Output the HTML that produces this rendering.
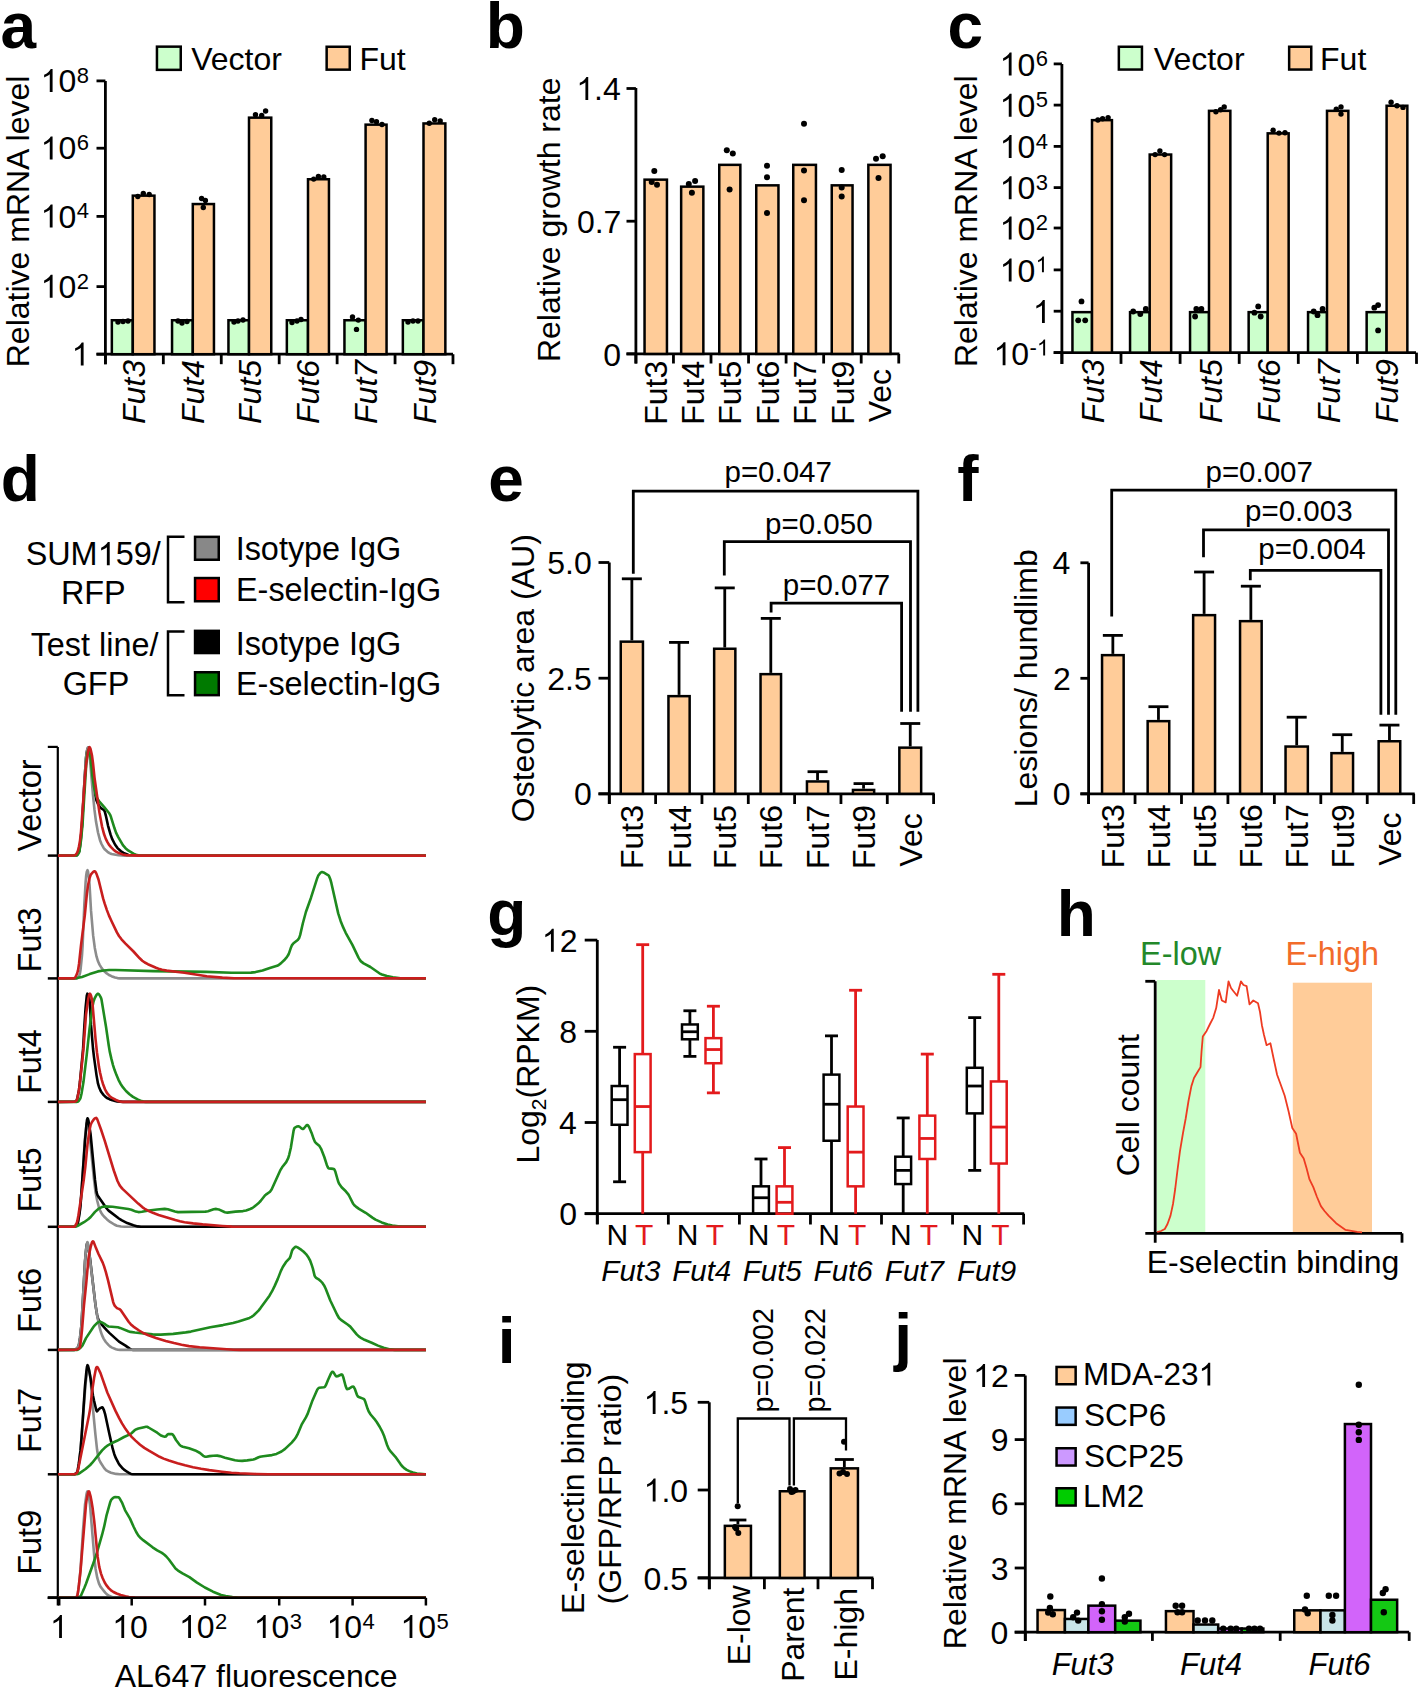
<!DOCTYPE html>
<html><head><meta charset="utf-8"><style>
html,body{margin:0;padding:0;background:#fff;overflow:hidden;width:1418px;height:1687px;}
svg{display:block;}
text{font-family:"Liberation Sans",sans-serif;}
</style></head><body>
<svg width="1418" height="1687" viewBox="0 0 1418 1687">
<rect width="1418" height="1687" fill="#fff"/>
<text x="0.58" y="47.8" font-size="64" font-weight="bold" fill="#000">a</text>
<rect x="156.95" y="46.65" width="23.8" height="23.2" fill="#CCFFCC" stroke="#000" stroke-width="2.5"/>
<text x="191.14" y="69.6" font-size="32" fill="#000">Vector</text>
<rect x="326.65" y="46.75" width="23.1" height="22.9" fill="#FFCC99" stroke="#000" stroke-width="2.5"/>
<text x="359.44" y="69.6" font-size="32" fill="#000">Fut</text>
<line x1="105.4" y1="80.9" x2="105.4" y2="364.2" stroke="#000" stroke-width="2.8"/>
<line x1="96.5" y1="354.2" x2="453" y2="354.2" stroke="#000" stroke-width="2.8"/>
<line x1="96.5" y1="80.9" x2="105.4" y2="80.9" stroke="#000" stroke-width="2.8"/>
<line x1="96.5" y1="148.2" x2="105.4" y2="148.2" stroke="#000" stroke-width="2.8"/>
<line x1="96.5" y1="216.4" x2="105.4" y2="216.4" stroke="#000" stroke-width="2.8"/>
<line x1="96.5" y1="286.6" x2="105.4" y2="286.6" stroke="#000" stroke-width="2.8"/>
<line x1="96.5" y1="354.2" x2="105.4" y2="354.2" stroke="#000" stroke-width="2.8"/>
<path d="M52.58,92.10 L49.77,92.10 L49.77,74.18 Q48.75,75.15 47.10,76.12 Q45.44,77.08 44.13,77.57 L44.13,74.85 Q46.49,73.74 48.25,72.16 Q50.02,70.58 50.75,69.10 L52.58,69.10 Z" fill="#000"/>
<text x="58.46" y="92.1" font-size="32" fill="#000">0</text>
<text x="76.7" y="82.8" font-size="22">8</text>
<path d="M52.58,159.40 L49.77,159.40 L49.77,141.48 Q48.75,142.45 47.10,143.42 Q45.44,144.38 44.13,144.87 L44.13,142.15 Q46.49,141.04 48.25,139.46 Q50.02,137.88 50.75,136.40 L52.58,136.40 Z" fill="#000"/>
<text x="58.46" y="159.4" font-size="32" fill="#000">0</text>
<text x="76.7" y="150.1" font-size="22">6</text>
<path d="M52.58,227.60 L49.77,227.60 L49.77,209.68 Q48.75,210.65 47.10,211.62 Q45.44,212.58 44.13,213.07 L44.13,210.35 Q46.49,209.24 48.25,207.66 Q50.02,206.08 50.75,204.60 L52.58,204.60 Z" fill="#000"/>
<text x="58.46" y="227.6" font-size="32" fill="#000">0</text>
<text x="76.7" y="218.3" font-size="22">4</text>
<path d="M52.58,297.80 L49.77,297.80 L49.77,279.88 Q48.75,280.85 47.10,281.82 Q45.44,282.78 44.13,283.27 L44.13,280.55 Q46.49,279.44 48.25,277.86 Q50.02,276.28 50.75,274.80 L52.58,274.80 Z" fill="#000"/>
<text x="58.46" y="297.8" font-size="32" fill="#000">0</text>
<text x="76.7" y="288.5" font-size="22">2</text>
<path d="M83.60,365.60 L80.79,365.60 L80.79,347.68 Q79.77,348.65 78.11,349.62 Q76.46,350.58 75.15,351.07 L75.15,348.35 Q77.50,347.24 79.27,345.66 Q81.04,344.08 81.77,342.60 L83.60,342.60 Z" fill="#000"/>
<line x1="105.4" y1="354.2" x2="105.4" y2="364.2" stroke="#000" stroke-width="2.8"/>
<line x1="163.33" y1="354.2" x2="163.33" y2="364.2" stroke="#000" stroke-width="2.8"/>
<line x1="221.26" y1="354.2" x2="221.26" y2="364.2" stroke="#000" stroke-width="2.8"/>
<line x1="279.19" y1="354.2" x2="279.19" y2="364.2" stroke="#000" stroke-width="2.8"/>
<line x1="337.12" y1="354.2" x2="337.12" y2="364.2" stroke="#000" stroke-width="2.8"/>
<line x1="395.05" y1="354.2" x2="395.05" y2="364.2" stroke="#000" stroke-width="2.8"/>
<line x1="452.98" y1="354.2" x2="452.98" y2="364.2" stroke="#000" stroke-width="2.8"/>
<rect x="111.85" y="320.25" width="20.95" height="33.95" fill="#CCFFCC" stroke="#000" stroke-width="2.5"/>
<rect x="132.8" y="195.65" width="21.65" height="158.55" fill="#FFCC99" stroke="#000" stroke-width="2.5"/>
<rect x="172.05" y="320.25" width="20.75" height="33.95" fill="#CCFFCC" stroke="#000" stroke-width="2.5"/>
<rect x="192.8" y="204.05" width="21.15" height="150.15" fill="#FFCC99" stroke="#000" stroke-width="2.5"/>
<rect x="228.45" y="320.25" width="20.55" height="33.95" fill="#CCFFCC" stroke="#000" stroke-width="2.5"/>
<rect x="249" y="117.65" width="22.25" height="236.55" fill="#FFCC99" stroke="#000" stroke-width="2.5"/>
<rect x="286.85" y="320.25" width="21.15" height="33.95" fill="#CCFFCC" stroke="#000" stroke-width="2.5"/>
<rect x="308" y="179.25" width="20.95" height="174.95" fill="#FFCC99" stroke="#000" stroke-width="2.5"/>
<rect x="344.45" y="320.25" width="21.15" height="33.95" fill="#CCFFCC" stroke="#000" stroke-width="2.5"/>
<rect x="365.6" y="124.65" width="20.95" height="229.55" fill="#FFCC99" stroke="#000" stroke-width="2.5"/>
<rect x="402.85" y="320.25" width="20.65" height="33.95" fill="#CCFFCC" stroke="#000" stroke-width="2.5"/>
<rect x="423.5" y="123.45" width="21.85" height="230.75" fill="#FFCC99" stroke="#000" stroke-width="2.5"/>
<circle cx="118" cy="322" r="2.7" fill="#000"/>
<circle cx="123" cy="321.5" r="2.7" fill="#000"/>
<circle cx="128" cy="321" r="2.7" fill="#000"/>
<circle cx="178" cy="321" r="2.7" fill="#000"/>
<circle cx="182" cy="323" r="2.7" fill="#000"/>
<circle cx="187" cy="321.5" r="2.7" fill="#000"/>
<circle cx="234" cy="322" r="2.7" fill="#000"/>
<circle cx="238" cy="321" r="2.7" fill="#000"/>
<circle cx="243" cy="320" r="2.7" fill="#000"/>
<circle cx="292" cy="322.5" r="2.7" fill="#000"/>
<circle cx="297" cy="321" r="2.7" fill="#000"/>
<circle cx="301" cy="319.5" r="2.7" fill="#000"/>
<circle cx="352.5" cy="317" r="2.7" fill="#000"/>
<circle cx="358.3" cy="320.1" r="2.7" fill="#000"/>
<circle cx="356.5" cy="329.4" r="2.7" fill="#000"/>
<circle cx="408" cy="322" r="2.7" fill="#000"/>
<circle cx="413" cy="321" r="2.7" fill="#000"/>
<circle cx="418" cy="321" r="2.7" fill="#000"/>
<circle cx="137.8" cy="196.5" r="2.7" fill="#000"/>
<circle cx="143.3" cy="193.5" r="2.7" fill="#000"/>
<circle cx="149.2" cy="194.5" r="2.7" fill="#000"/>
<circle cx="201.6" cy="198.5" r="2.7" fill="#000"/>
<circle cx="205.4" cy="200.5" r="2.7" fill="#000"/>
<circle cx="203.3" cy="207.5" r="2.7" fill="#000"/>
<circle cx="255.5" cy="114.7" r="2.7" fill="#000"/>
<circle cx="261.7" cy="115.5" r="2.7" fill="#000"/>
<circle cx="265.6" cy="111" r="2.7" fill="#000"/>
<circle cx="313.7" cy="179.1" r="2.7" fill="#000"/>
<circle cx="318.4" cy="176.5" r="2.7" fill="#000"/>
<circle cx="323.8" cy="177" r="2.7" fill="#000"/>
<circle cx="371.9" cy="120.5" r="2.7" fill="#000"/>
<circle cx="376.5" cy="121.7" r="2.7" fill="#000"/>
<circle cx="382" cy="124.5" r="2.7" fill="#000"/>
<circle cx="429.3" cy="123.3" r="2.7" fill="#000"/>
<circle cx="434.7" cy="119.8" r="2.7" fill="#000"/>
<circle cx="440.2" cy="121" r="2.7" fill="#000"/>
<text x="29.4" y="367.26" font-size="32" fill="#000" transform="rotate(-90 29.4 367.26)">Relative mRNA level</text>
<text x="144.65" y="423.96" font-size="32" font-style="italic" fill="#000" transform="rotate(-90 144.65 423.96)">Fut3</text>
<text x="204.5" y="423.96" font-size="32" font-style="italic" fill="#000" transform="rotate(-90 204.5 423.96)">Fut4</text>
<text x="261.35" y="423.96" font-size="32" font-style="italic" fill="#000" transform="rotate(-90 261.35 423.96)">Fut5</text>
<text x="319.4" y="423.96" font-size="32" font-style="italic" fill="#000" transform="rotate(-90 319.4 423.96)">Fut6</text>
<text x="377" y="423.96" font-size="32" font-style="italic" fill="#000" transform="rotate(-90 377 423.96)">Fut7</text>
<text x="435.6" y="423.96" font-size="32" font-style="italic" fill="#000" transform="rotate(-90 435.6 423.96)">Fut9</text>
<text x="485.74" y="47.8" font-size="64" font-weight="bold" fill="#000">b</text>
<line x1="635.9" y1="88" x2="635.9" y2="363.5" stroke="#000" stroke-width="2.8"/>
<line x1="626.5" y1="353.9" x2="899.4" y2="353.9" stroke="#000" stroke-width="2.8"/>
<line x1="626.5" y1="88.5" x2="635.9" y2="88.5" stroke="#000" stroke-width="2.8"/>
<path d="M588.23,100.10 L585.42,100.10 L585.42,82.18 Q584.41,83.15 582.75,84.12 Q581.09,85.08 579.78,85.57 L579.78,82.85 Q582.14,81.74 583.91,80.16 Q585.67,78.58 586.41,77.10 L588.23,77.10 Z" fill="#000"/>
<text x="594.11" y="100.1" font-size="32" fill="#000">.4</text>
<line x1="626.5" y1="221.2" x2="635.9" y2="221.2" stroke="#000" stroke-width="2.8"/>
<text x="576.92" y="232.8" font-size="32" fill="#000">0.7</text>
<line x1="626.5" y1="353.9" x2="635.9" y2="353.9" stroke="#000" stroke-width="2.8"/>
<text x="603.32" y="365.5" font-size="32" fill="#000">0</text>
<line x1="635.9" y1="353.9" x2="635.9" y2="363.5" stroke="#000" stroke-width="2.8"/>
<line x1="673.45" y1="353.9" x2="673.45" y2="363.5" stroke="#000" stroke-width="2.8"/>
<line x1="711" y1="353.9" x2="711" y2="363.5" stroke="#000" stroke-width="2.8"/>
<line x1="748.55" y1="353.9" x2="748.55" y2="363.5" stroke="#000" stroke-width="2.8"/>
<line x1="786.1" y1="353.9" x2="786.1" y2="363.5" stroke="#000" stroke-width="2.8"/>
<line x1="823.65" y1="353.9" x2="823.65" y2="363.5" stroke="#000" stroke-width="2.8"/>
<line x1="861.2" y1="353.9" x2="861.2" y2="363.5" stroke="#000" stroke-width="2.8"/>
<line x1="898.75" y1="353.9" x2="898.75" y2="363.5" stroke="#000" stroke-width="2.8"/>
<rect x="644.55" y="179.65" width="22.4" height="174.25" fill="#FFCC99" stroke="#000" stroke-width="2.5"/>
<rect x="681.15" y="186.65" width="22.2" height="167.25" fill="#FFCC99" stroke="#000" stroke-width="2.5"/>
<rect x="719.25" y="164.85" width="21.1" height="189.05" fill="#FFCC99" stroke="#000" stroke-width="2.5"/>
<rect x="756.25" y="185.35" width="22.2" height="168.55" fill="#FFCC99" stroke="#000" stroke-width="2.5"/>
<rect x="793.25" y="164.85" width="22.7" height="189.05" fill="#FFCC99" stroke="#000" stroke-width="2.5"/>
<rect x="831.75" y="185.35" width="20.8" height="168.55" fill="#FFCC99" stroke="#000" stroke-width="2.5"/>
<rect x="868.35" y="164.85" width="22.2" height="189.05" fill="#FFCC99" stroke="#000" stroke-width="2.5"/>
<circle cx="654.3" cy="171" r="3" fill="#000"/>
<circle cx="651.7" cy="182" r="3" fill="#000"/>
<circle cx="657" cy="184.7" r="3" fill="#000"/>
<circle cx="695.1" cy="181.1" r="3" fill="#000"/>
<circle cx="688.8" cy="184.1" r="3" fill="#000"/>
<circle cx="691.9" cy="192.8" r="3" fill="#000"/>
<circle cx="726.8" cy="150.2" r="3" fill="#000"/>
<circle cx="732.8" cy="153.6" r="3" fill="#000"/>
<circle cx="729.6" cy="189.6" r="3" fill="#000"/>
<circle cx="767" cy="165.7" r="3" fill="#000"/>
<circle cx="767" cy="177.3" r="3" fill="#000"/>
<circle cx="767" cy="212.9" r="3" fill="#000"/>
<circle cx="804" cy="123.8" r="3" fill="#000"/>
<circle cx="804" cy="170.5" r="3" fill="#000"/>
<circle cx="804" cy="200.2" r="3" fill="#000"/>
<circle cx="841.7" cy="169.9" r="3" fill="#000"/>
<circle cx="841.7" cy="187.5" r="3" fill="#000"/>
<circle cx="841.7" cy="196.4" r="3" fill="#000"/>
<circle cx="876" cy="158.7" r="3" fill="#000"/>
<circle cx="882.7" cy="156.2" r="3" fill="#000"/>
<circle cx="878.5" cy="178" r="3" fill="#000"/>
<text x="559.8" y="362.06" font-size="32" fill="#000" transform="rotate(-90 559.8 362.06)">Relative growth rate</text>
<text x="667.25" y="424.76" font-size="32" fill="#000" transform="rotate(-90 667.25 424.76)">Fut3</text>
<text x="703.75" y="424.76" font-size="32" fill="#000" transform="rotate(-90 703.75 424.76)">Fut4</text>
<text x="741.3" y="424.76" font-size="32" fill="#000" transform="rotate(-90 741.3 424.76)">Fut5</text>
<text x="778.85" y="424.76" font-size="32" fill="#000" transform="rotate(-90 778.85 424.76)">Fut6</text>
<text x="816.1" y="424.76" font-size="32" fill="#000" transform="rotate(-90 816.1 424.76)">Fut7</text>
<text x="853.65" y="424.76" font-size="32" fill="#000" transform="rotate(-90 853.65 424.76)">Fut9</text>
<text x="890.95" y="422.36" font-size="32" fill="#000" transform="rotate(-90 890.95 422.36)">Vec</text>
<text x="947.54" y="47.5" font-size="64" font-weight="bold" fill="#000">c</text>
<rect x="1118.85" y="46.75" width="23.1" height="22.8" fill="#CCFFCC" stroke="#000" stroke-width="2.5"/>
<text x="1153.84" y="69.6" font-size="32" fill="#000">Vector</text>
<rect x="1289.15" y="46.75" width="22.1" height="22.8" fill="#FFCC99" stroke="#000" stroke-width="2.5"/>
<text x="1320.04" y="69.6" font-size="32" fill="#000">Fut</text>
<line x1="1061.9" y1="63.9" x2="1061.9" y2="363.9" stroke="#000" stroke-width="2.8"/>
<line x1="1053.7" y1="352.6" x2="1416" y2="352.6" stroke="#000" stroke-width="2.8"/>
<line x1="1053.7" y1="63.9" x2="1061.9" y2="63.9" stroke="#000" stroke-width="2.8"/>
<line x1="1053.7" y1="105.1" x2="1061.9" y2="105.1" stroke="#000" stroke-width="2.8"/>
<line x1="1053.7" y1="146.4" x2="1061.9" y2="146.4" stroke="#000" stroke-width="2.8"/>
<line x1="1053.7" y1="187.6" x2="1061.9" y2="187.6" stroke="#000" stroke-width="2.8"/>
<line x1="1053.7" y1="228" x2="1061.9" y2="228" stroke="#000" stroke-width="2.8"/>
<line x1="1053.7" y1="269.9" x2="1061.9" y2="269.9" stroke="#000" stroke-width="2.8"/>
<line x1="1053.7" y1="311.2" x2="1061.9" y2="311.2" stroke="#000" stroke-width="2.8"/>
<line x1="1053.7" y1="352.6" x2="1061.9" y2="352.6" stroke="#000" stroke-width="2.8"/>
<path d="M1011.58,75.50 L1008.77,75.50 L1008.77,57.58 Q1007.75,58.55 1006.10,59.52 Q1004.44,60.48 1003.13,60.97 L1003.13,58.25 Q1005.49,57.14 1007.25,55.56 Q1009.02,53.98 1009.75,52.50 L1011.58,52.50 Z" fill="#000"/>
<text x="1017.46" y="75.5" font-size="32" fill="#000">0</text>
<text x="1035.7" y="66.2" font-size="22">6</text>
<path d="M1011.58,116.70 L1008.77,116.70 L1008.77,98.78 Q1007.75,99.75 1006.10,100.72 Q1004.44,101.68 1003.13,102.17 L1003.13,99.45 Q1005.49,98.34 1007.25,96.76 Q1009.02,95.18 1009.75,93.70 L1011.58,93.70 Z" fill="#000"/>
<text x="1017.46" y="116.7" font-size="32" fill="#000">0</text>
<text x="1035.7" y="107.4" font-size="22">5</text>
<path d="M1011.58,158.00 L1008.77,158.00 L1008.77,140.08 Q1007.75,141.05 1006.10,142.02 Q1004.44,142.98 1003.13,143.47 L1003.13,140.75 Q1005.49,139.64 1007.25,138.06 Q1009.02,136.48 1009.75,135.00 L1011.58,135.00 Z" fill="#000"/>
<text x="1017.46" y="158" font-size="32" fill="#000">0</text>
<text x="1035.7" y="148.7" font-size="22">4</text>
<path d="M1011.58,199.20 L1008.77,199.20 L1008.77,181.28 Q1007.75,182.25 1006.10,183.22 Q1004.44,184.18 1003.13,184.67 L1003.13,181.95 Q1005.49,180.84 1007.25,179.26 Q1009.02,177.68 1009.75,176.20 L1011.58,176.20 Z" fill="#000"/>
<text x="1017.46" y="199.2" font-size="32" fill="#000">0</text>
<text x="1035.7" y="189.9" font-size="22">3</text>
<path d="M1011.58,239.60 L1008.77,239.60 L1008.77,221.68 Q1007.75,222.65 1006.10,223.62 Q1004.44,224.58 1003.13,225.07 L1003.13,222.35 Q1005.49,221.24 1007.25,219.66 Q1009.02,218.08 1009.75,216.60 L1011.58,216.60 Z" fill="#000"/>
<text x="1017.46" y="239.6" font-size="32" fill="#000">0</text>
<text x="1035.7" y="230.3" font-size="22">2</text>
<path d="M1011.58,281.50 L1008.77,281.50 L1008.77,263.58 Q1007.75,264.55 1006.10,265.52 Q1004.44,266.48 1003.13,266.97 L1003.13,264.25 Q1005.49,263.14 1007.25,261.56 Q1009.02,259.98 1009.75,258.50 L1011.58,258.50 Z" fill="#000"/>
<text x="1017.46" y="281.5" font-size="32" fill="#000">0</text>
<path d="M1043.90,272.20 L1041.96,272.20 L1041.96,259.88 Q1041.26,260.54 1040.13,261.21 Q1038.99,261.88 1038.08,262.21 L1038.08,260.34 Q1039.71,259.58 1040.92,258.49 Q1042.13,257.41 1042.64,256.39 L1043.90,256.39 Z" fill="#000"/>
<path d="M1044.80,323.10 L1041.99,323.10 L1041.99,305.18 Q1040.97,306.15 1039.31,307.12 Q1037.66,308.08 1036.35,308.57 L1036.35,305.85 Q1038.70,304.74 1040.47,303.16 Q1042.24,301.58 1042.97,300.10 L1044.80,300.10 Z" fill="#000"/>
<path d="M1005.48,365.20 L1002.67,365.20 L1002.67,347.28 Q1001.65,348.25 1000.00,349.22 Q998.34,350.18 997.03,350.67 L997.03,347.95 Q999.39,346.84 1001.15,345.26 Q1002.92,343.68 1003.65,342.20 L1005.48,342.20 Z" fill="#000"/>
<text x="1011.36" y="365.2" font-size="32" fill="#000">0</text>
<text x="1029.6" y="355.4" font-size="22">-</text>
<path d="M1045.12,355.40 L1043.19,355.40 L1043.19,343.08 Q1042.49,343.74 1041.35,344.41 Q1040.21,345.08 1039.31,345.41 L1039.31,343.54 Q1040.93,342.78 1042.15,341.69 Q1043.36,340.61 1043.87,339.59 L1045.12,339.59 Z" fill="#000"/>
<line x1="1061.9" y1="352.6" x2="1061.9" y2="363.9" stroke="#000" stroke-width="2.8"/>
<line x1="1121" y1="352.6" x2="1121" y2="363.9" stroke="#000" stroke-width="2.8"/>
<line x1="1180.1" y1="352.6" x2="1180.1" y2="363.9" stroke="#000" stroke-width="2.8"/>
<line x1="1239.2" y1="352.6" x2="1239.2" y2="363.9" stroke="#000" stroke-width="2.8"/>
<line x1="1298.3" y1="352.6" x2="1298.3" y2="363.9" stroke="#000" stroke-width="2.8"/>
<line x1="1357.4" y1="352.6" x2="1357.4" y2="363.9" stroke="#000" stroke-width="2.8"/>
<line x1="1416.5" y1="352.6" x2="1416.5" y2="363.9" stroke="#000" stroke-width="2.8"/>
<rect x="1072.45" y="312.15" width="19.55" height="40.45" fill="#CCFFCC" stroke="#000" stroke-width="2.5"/>
<rect x="1092" y="120.15" width="19.95" height="232.45" fill="#FFCC99" stroke="#000" stroke-width="2.5"/>
<rect x="1130.05" y="312.15" width="19.65" height="40.45" fill="#CCFFCC" stroke="#000" stroke-width="2.5"/>
<rect x="1149.7" y="154.55" width="21.45" height="198.05" fill="#FFCC99" stroke="#000" stroke-width="2.5"/>
<rect x="1190.05" y="312.15" width="18.95" height="40.45" fill="#CCFFCC" stroke="#000" stroke-width="2.5"/>
<rect x="1209" y="110.85" width="21.35" height="241.75" fill="#FFCC99" stroke="#000" stroke-width="2.5"/>
<rect x="1248.65" y="312.15" width="19.05" height="40.45" fill="#CCFFCC" stroke="#000" stroke-width="2.5"/>
<rect x="1267.7" y="133.35" width="20.95" height="219.25" fill="#FFCC99" stroke="#000" stroke-width="2.5"/>
<rect x="1308.05" y="312.15" width="18.95" height="40.45" fill="#CCFFCC" stroke="#000" stroke-width="2.5"/>
<rect x="1327" y="110.85" width="21.35" height="241.75" fill="#FFCC99" stroke="#000" stroke-width="2.5"/>
<rect x="1366.65" y="312.15" width="19.95" height="40.45" fill="#CCFFCC" stroke="#000" stroke-width="2.5"/>
<rect x="1386.6" y="105.75" width="20.75" height="246.85" fill="#FFCC99" stroke="#000" stroke-width="2.5"/>
<circle cx="1097.9" cy="120" r="2.7" fill="#000"/>
<circle cx="1102.6" cy="118.8" r="2.7" fill="#000"/>
<circle cx="1108.1" cy="117.6" r="2.7" fill="#000"/>
<circle cx="1155.1" cy="154.6" r="2.7" fill="#000"/>
<circle cx="1159.9" cy="151" r="2.7" fill="#000"/>
<circle cx="1164.6" cy="154.6" r="2.7" fill="#000"/>
<circle cx="1215.9" cy="111.7" r="2.7" fill="#000"/>
<circle cx="1220.6" cy="109.8" r="2.7" fill="#000"/>
<circle cx="1224.2" cy="106.9" r="2.7" fill="#000"/>
<circle cx="1273.1" cy="130.3" r="2.7" fill="#000"/>
<circle cx="1279" cy="133.1" r="2.7" fill="#000"/>
<circle cx="1285" cy="132.7" r="2.7" fill="#000"/>
<circle cx="1336.3" cy="109.3" r="2.7" fill="#000"/>
<circle cx="1341" cy="106.9" r="2.7" fill="#000"/>
<circle cx="1341" cy="114.1" r="2.7" fill="#000"/>
<circle cx="1391.1" cy="102.2" r="2.7" fill="#000"/>
<circle cx="1397" cy="105.7" r="2.7" fill="#000"/>
<circle cx="1403" cy="107.4" r="2.7" fill="#000"/>
<circle cx="1081.5" cy="301.4" r="2.9" fill="#000"/>
<circle cx="1078.2" cy="320.3" r="2.9" fill="#000"/>
<circle cx="1085.2" cy="320.3" r="2.9" fill="#000"/>
<circle cx="1133.2" cy="311.5" r="2.9" fill="#000"/>
<circle cx="1140.3" cy="314" r="2.9" fill="#000"/>
<circle cx="1145.8" cy="308.9" r="2.9" fill="#000"/>
<circle cx="1196.3" cy="308.9" r="2.9" fill="#000"/>
<circle cx="1201.4" cy="308.9" r="2.9" fill="#000"/>
<circle cx="1195.1" cy="316.5" r="2.9" fill="#000"/>
<circle cx="1258.2" cy="306.4" r="2.9" fill="#000"/>
<circle cx="1254.4" cy="312.7" r="2.9" fill="#000"/>
<circle cx="1260.7" cy="316.5" r="2.9" fill="#000"/>
<circle cx="1313.7" cy="311.5" r="2.9" fill="#000"/>
<circle cx="1317.5" cy="315.2" r="2.9" fill="#000"/>
<circle cx="1322.6" cy="308.9" r="2.9" fill="#000"/>
<circle cx="1378.1" cy="305.1" r="2.9" fill="#000"/>
<circle cx="1374.3" cy="307.7" r="2.9" fill="#000"/>
<circle cx="1378.1" cy="330.4" r="2.9" fill="#000"/>
<text x="977" y="367.06" font-size="32" fill="#000" transform="rotate(-90 977 367.06)">Relative mRNA level</text>
<text x="1103.7" y="423.26" font-size="32" font-style="italic" fill="#000" transform="rotate(-90 1103.7 423.26)">Fut3</text>
<text x="1162.1" y="423.26" font-size="32" font-style="italic" fill="#000" transform="rotate(-90 1162.1 423.26)">Fut4</text>
<text x="1221.7" y="423.26" font-size="32" font-style="italic" fill="#000" transform="rotate(-90 1221.7 423.26)">Fut5</text>
<text x="1280.15" y="423.26" font-size="32" font-style="italic" fill="#000" transform="rotate(-90 1280.15 423.26)">Fut6</text>
<text x="1339.7" y="423.26" font-size="32" font-style="italic" fill="#000" transform="rotate(-90 1339.7 423.26)">Fut7</text>
<text x="1398.5" y="423.26" font-size="32" font-style="italic" fill="#000" transform="rotate(-90 1398.5 423.26)">Fut9</text>
<text x="0.84" y="501.3" font-size="64" font-weight="bold" fill="#000">d</text>
<text x="25.64" y="565.3" font-size="32.4" fill="#000">SUM</text>
<path d="M109.71,565.30 L106.86,565.30 L106.86,547.15 Q105.84,548.13 104.16,549.12 Q102.48,550.10 101.15,550.59 L101.15,547.83 Q103.54,546.71 105.33,545.11 Q107.12,543.52 107.86,542.01 L109.71,542.01 Z" fill="#000"/>
<text x="115.66" y="565.3" font-size="32.4" fill="#000">59/</text>
<text x="60.91" y="603.8" font-size="32.4" fill="#000">RFP</text>
<text x="30.65" y="655.8" font-size="32.4" fill="#000">Test line/</text>
<text x="62.68" y="694.7" font-size="32.4" fill="#000">GFP</text>
<polyline points="184.5,536.7 168,536.7 168,602.3 184.5,602.3" stroke="#000" stroke-width="2.5" fill="none"/>
<polyline points="184.5,631.4 168,631.4 168,695.3 184.5,695.3" stroke="#000" stroke-width="2.5" fill="none"/>
<rect x="195.05" y="536.85" width="23.7" height="22.9" fill="#888888" stroke="#000" stroke-width="2.5"/>
<rect x="195.05" y="578.05" width="23.7" height="23.2" fill="#ff0000" stroke="#000" stroke-width="2.5"/>
<rect x="195.05" y="630.85" width="23.7" height="22.2" fill="#000000" stroke="#000" stroke-width="2.5"/>
<rect x="195.05" y="672.25" width="23.7" height="22.9" fill="#007a00" stroke="#000" stroke-width="2.5"/>
<text x="235.68" y="559.8" font-size="32.4" fill="#000">Isotype IgG</text>
<text x="236.01" y="601.2" font-size="32.4" fill="#000">E-selectin-IgG</text>
<text x="235.68" y="654.6" font-size="32.4" fill="#000">Isotype IgG</text>
<text x="236.01" y="695.2" font-size="32.4" fill="#000">E-selectin-IgG</text>
<line x1="57.8" y1="746.9" x2="57.8" y2="1605.5" stroke="#000" stroke-width="2.2"/>
<line x1="47.8" y1="746.9" x2="57.8" y2="746.9" stroke="#000" stroke-width="2.2"/>
<line x1="47.8" y1="855.6" x2="57.8" y2="855.6" stroke="#000" stroke-width="2.5"/>
<line x1="47.8" y1="978.4" x2="57.8" y2="978.4" stroke="#000" stroke-width="2.5"/>
<line x1="47.8" y1="1101.9" x2="57.8" y2="1101.9" stroke="#000" stroke-width="2.5"/>
<line x1="47.8" y1="1226.8" x2="57.8" y2="1226.8" stroke="#000" stroke-width="2.5"/>
<line x1="47.8" y1="1349.9" x2="57.8" y2="1349.9" stroke="#000" stroke-width="2.5"/>
<line x1="47.8" y1="1474.3" x2="57.8" y2="1474.3" stroke="#000" stroke-width="2.5"/>
<line x1="47.8" y1="1597.8" x2="57.8" y2="1597.8" stroke="#000" stroke-width="2.5"/>
<line x1="47.8" y1="1597.8" x2="425.9" y2="1597.8" stroke="#000" stroke-width="2.5"/>
<line x1="59.2" y1="1597.8" x2="59.2" y2="1605.5" stroke="#000" stroke-width="2.5"/>
<line x1="131.7" y1="1597.8" x2="131.7" y2="1605.5" stroke="#000" stroke-width="2.5"/>
<line x1="205" y1="1597.8" x2="205" y2="1605.5" stroke="#000" stroke-width="2.5"/>
<line x1="279.2" y1="1597.8" x2="279.2" y2="1605.5" stroke="#000" stroke-width="2.5"/>
<line x1="352.6" y1="1597.8" x2="352.6" y2="1605.5" stroke="#000" stroke-width="2.5"/>
<line x1="425.9" y1="1597.8" x2="425.9" y2="1605.5" stroke="#000" stroke-width="2.5"/>
<path d="M61.93,1638.00 L59.12,1638.00 L59.12,1620.08 Q58.10,1621.05 56.45,1622.02 Q54.79,1622.98 53.48,1623.47 L53.48,1620.75 Q55.84,1619.64 57.60,1618.06 Q59.37,1616.48 60.10,1615.00 L61.93,1615.00 Z" fill="#000"/>
<path d="M124.16,1638.00 L121.34,1638.00 L121.34,1620.08 Q120.33,1621.05 118.67,1622.02 Q117.01,1622.98 115.70,1623.47 L115.70,1620.75 Q118.06,1619.64 119.83,1618.06 Q121.59,1616.48 122.33,1615.00 L124.16,1615.00 Z" fill="#000"/>
<text x="130.03" y="1638" font-size="32" fill="#000">0</text>
<path d="M190.97,1638.00 L188.15,1638.00 L188.15,1620.08 Q187.14,1621.05 185.48,1622.02 Q183.83,1622.98 182.51,1623.47 L182.51,1620.75 Q184.87,1619.64 186.64,1618.06 Q188.40,1616.48 189.14,1615.00 L190.97,1615.00 Z" fill="#000"/>
<text x="196.84" y="1638" font-size="32" fill="#000">0</text>
<text x="215.08" y="1629.4" font-size="22">2</text>
<path d="M265.67,1638.00 L262.85,1638.00 L262.85,1620.08 Q261.84,1621.05 260.18,1622.02 Q258.53,1622.98 257.21,1623.47 L257.21,1620.75 Q259.57,1619.64 261.34,1618.06 Q263.10,1616.48 263.84,1615.00 L265.67,1615.00 Z" fill="#000"/>
<text x="271.54" y="1638" font-size="32" fill="#000">0</text>
<text x="289.78" y="1629.4" font-size="22">3</text>
<path d="M338.47,1638.00 L335.65,1638.00 L335.65,1620.08 Q334.64,1621.05 332.98,1622.02 Q331.33,1622.98 330.01,1623.47 L330.01,1620.75 Q332.37,1619.64 334.14,1618.06 Q335.90,1616.48 336.64,1615.00 L338.47,1615.00 Z" fill="#000"/>
<text x="344.34" y="1638" font-size="32" fill="#000">0</text>
<text x="362.58" y="1629.4" font-size="22">4</text>
<path d="M412.37,1638.00 L409.55,1638.00 L409.55,1620.08 Q408.54,1621.05 406.88,1622.02 Q405.23,1622.98 403.91,1623.47 L403.91,1620.75 Q406.27,1619.64 408.04,1618.06 Q409.80,1616.48 410.54,1615.00 L412.37,1615.00 Z" fill="#000"/>
<text x="418.24" y="1638" font-size="32" fill="#000">0</text>
<text x="436.48" y="1629.4" font-size="22">5</text>
<text x="114.64" y="1686.8" font-size="32" fill="#000">AL647 fluorescence</text>
<text x="40.8" y="851.56" font-size="32.5" fill="#000" transform="rotate(-90 40.8 851.56)">Vector</text>
<text x="40.8" y="972.4" font-size="32.5" fill="#000" transform="rotate(-90 40.8 972.4)">Fut3</text>
<text x="40.8" y="1094.1" font-size="32.5" fill="#000" transform="rotate(-90 40.8 1094.1)">Fut4</text>
<text x="40.8" y="1212.5" font-size="32.5" fill="#000" transform="rotate(-90 40.8 1212.5)">Fut5</text>
<text x="40.8" y="1332.9" font-size="32.5" fill="#000" transform="rotate(-90 40.8 1332.9)">Fut6</text>
<text x="40.8" y="1453" font-size="32.5" fill="#000" transform="rotate(-90 40.8 1453)">Fut7</text>
<text x="40.8" y="1574.8" font-size="32.5" fill="#000" transform="rotate(-90 40.8 1574.8)">Fut9</text>
<path d="M58.0,855.6 L76.0,855.6 L76.5,855.5 L77.5,854.5 L79.0,851.6 L79.5,849.7 L80.5,842.2 L82.0,825.6 L84.5,780.6 L86.0,757.9 L86.5,753.6 L87.1,750.6 L87.7,748.5 L88.3,747.6 L88.8,748.5 L89.4,750.9 L90.5,757.6 L93.0,780.6 L95.0,794.0 L96.5,800.6 L98.0,804.0 L99.5,806.4 L101.0,808.1 L103.8,810.0 L104.3,810.6 L104.8,811.7 L105.9,815.8 L108.0,825.6 L110.5,834.4 L112.0,838.6 L115.0,844.5 L117.5,848.1 L121.0,851.3 L123.5,852.9 L128.5,855.0 L130.5,855.5 L132.0,855.6 L425.9,855.6" stroke="#000" stroke-width="2.6" fill="none" stroke-linejoin="round"/>
<path d="M58.0,855.6 L76.0,855.6 L76.5,855.5 L77.5,854.5 L79.0,851.6 L79.5,849.7 L80.5,842.2 L82.0,825.6 L84.5,780.6 L86.0,758.2 L87.2,749.5 L87.8,747.6 L88.4,748.9 L88.9,751.9 L90.0,759.8 L93.0,795.2 L94.5,810.0 L96.0,821.6 L98.0,832.5 L100.0,840.2 L101.5,844.0 L103.5,847.7 L105.0,849.6 L107.5,851.8 L109.5,853.1 L111.5,854.0 L118.5,855.2 L125.0,855.6 L425.9,855.6" stroke="#8c8c8c" stroke-width="2.6" fill="none" stroke-linejoin="round"/>
<path d="M58.0,855.6 L76.5,855.5 L77.5,854.8 L78.5,853.4 L79.0,852.6 L79.5,851.1 L81.0,840.4 L82.5,824.7 L86.5,760.2 L87.0,755.6 L87.5,752.7 L88.1,750.5 L88.6,749.6 L89.2,750.9 L90.5,757.6 L92.5,776.6 L94.0,786.8 L95.5,794.0 L96.5,796.9 L97.6,799.0 L99.2,801.3 L104.0,806.8 L109.0,813.0 L110.0,814.6 L111.0,817.1 L114.5,828.3 L116.0,832.6 L118.1,836.8 L122.9,845.2 L125.5,848.2 L128.5,850.7 L133.5,853.6 L137.0,855.1 L140.0,855.6 L425.9,855.6" stroke="#1e8a1e" stroke-width="2.6" fill="none" stroke-linejoin="round"/>
<path d="M58.0,855.6 L74.5,855.5 L75.5,854.9 L77.0,853.1 L78.0,850.6 L79.0,846.3 L80.0,840.6 L81.0,831.6 L85.0,776.6 L86.0,765.6 L88.0,751.6 L89.0,747.7 L89.5,747.1 L90.0,747.6 L90.5,748.9 L92.0,755.6 L93.0,763.2 L94.5,777.6 L99.4,812.2 L102.0,826.3 L104.1,834.3 L105.7,838.6 L107.3,841.9 L108.9,844.7 L111.0,847.2 L113.5,849.7 L116.0,851.6 L119.5,853.3 L122.5,854.4 L126.0,855.1 L139.5,855.6 L425.9,855.6" stroke="#c81e1e" stroke-width="2.6" fill="none" stroke-linejoin="round"/>
<path d="M58.0,978.4 L77.0,978.4 L77.5,978.2 L78.0,977.7 L79.5,974.9 L80.0,973.0 L80.5,970.0 L82.0,955.4 L82.6,945.8 L84.3,905.4 L85.6,882.3 L86.2,875.4 L86.8,871.8 L87.5,870.2 L88.0,871.4 L89.0,878.4 L89.5,884.4 L91.0,910.4 L93.2,935.9 L94.8,947.9 L96.5,956.4 L98.0,961.3 L99.5,964.6 L101.5,967.9 L103.5,970.5 L106.0,972.9 L109.0,975.0 L111.5,976.2 L115.0,977.5 L117.5,978.1 L120.0,978.4 L425.9,978.4" stroke="#8c8c8c" stroke-width="2.6" fill="none" stroke-linejoin="round"/>
<path d="M58.0,978.4 L74.0,978.4 L77.0,978.1 L82.0,977.0 L89.7,974.1 L97.9,971.4 L103.5,970.5 L109.1,970.0 L115.7,970.0 L153.2,971.1 L206.2,971.9 L231.5,972.8 L251.0,972.6 L255.5,972.1 L262.5,970.4 L269.8,967.9 L277.1,965.8 L278.7,965.0 L280.8,963.4 L284.1,960.3 L286.2,957.9 L287.9,955.6 L288.9,953.6 L291.0,947.4 L292.0,945.1 L293.5,943.2 L297.7,940.0 L299.2,937.9 L300.2,934.9 L302.8,923.5 L305.9,912.0 L311.0,897.7 L317.3,877.9 L318.3,875.6 L319.9,873.4 L320.9,872.4 L322.0,872.0 L323.5,872.4 L327.6,874.8 L328.7,875.6 L329.2,876.4 L330.3,879.2 L331.4,883.2 L338.2,913.4 L340.7,921.2 L343.2,927.4 L345.7,932.8 L352.4,944.9 L358.5,957.6 L360.0,960.1 L361.0,961.4 L363.6,963.4 L370.4,967.0 L379.4,973.3 L381.9,974.5 L386.9,976.1 L392.9,977.3 L400.5,978.4 L425.9,978.4" stroke="#1e8a1e" stroke-width="2.6" fill="none" stroke-linejoin="round"/>
<path d="M58.0,978.4 L74.0,978.4 L74.5,978.2 L75.5,977.0 L77.0,973.8 L78.0,970.4 L79.0,964.0 L81.0,945.4 L84.8,915.4 L86.9,893.6 L88.0,885.4 L89.5,878.4 L90.5,875.3 L91.0,874.4 L92.6,872.5 L93.7,871.6 L94.8,871.3 L95.3,871.6 L96.4,873.6 L98.5,879.5 L103.1,898.4 L104.7,903.7 L106.9,910.1 L109.0,915.6 L111.7,921.5 L116.9,932.4 L119.0,936.0 L121.5,939.3 L125.5,943.6 L133.5,951.5 L139.7,958.3 L142.3,960.7 L144.8,962.5 L147.9,964.2 L156.0,967.7 L159.6,969.1 L162.1,969.8 L166.7,970.6 L184.5,972.7 L206.8,976.2 L222.4,977.6 L234.0,978.3 L425.9,978.4" stroke="#c81e1e" stroke-width="2.6" fill="none" stroke-linejoin="round"/>
<path d="M58.0,1101.9 L74.5,1101.8 L76.1,1101.1 L76.7,1100.2 L77.3,1098.4 L79.0,1089.9 L80.0,1081.5 L83.1,1048.5 L84.4,1025.2 L85.6,1007.6 L86.8,995.7 L87.4,993.7 L87.9,994.2 L88.5,995.4 L89.5,999.9 L90.0,1006.0 L91.0,1024.9 L93.0,1048.5 L94.0,1057.1 L96.5,1075.1 L98.0,1083.7 L99.0,1086.9 L100.5,1090.5 L101.5,1092.3 L103.5,1094.9 L105.5,1096.9 L107.0,1098.0 L109.5,1099.2 L112.5,1100.3 L117.0,1101.4 L123.0,1101.9 L425.9,1101.9" stroke="#000" stroke-width="2.6" fill="none" stroke-linejoin="round"/>
<path d="M58.0,1101.9 L77.0,1101.9 L78.0,1101.5 L79.0,1100.5 L80.0,1099.1 L80.5,1097.9 L81.5,1093.7 L83.5,1081.8 L86.8,1054.1 L89.5,1029.1 L92.5,1006.6 L93.5,1001.5 L94.5,998.7 L96.5,994.8 L97.5,993.8 L98.0,993.7 L98.5,993.9 L99.5,995.0 L101.0,997.9 L101.5,999.5 L106.0,1026.8 L108.7,1045.2 L109.7,1051.4 L111.4,1058.9 L113.0,1065.1 L114.5,1069.8 L116.5,1075.1 L118.5,1079.8 L120.5,1083.7 L123.0,1087.4 L126.0,1091.0 L129.5,1094.3 L133.0,1096.9 L138.1,1099.6 L141.7,1101.1 L143.8,1101.7 L145.9,1101.9 L425.9,1101.9" stroke="#1e8a1e" stroke-width="2.6" fill="none" stroke-linejoin="round"/>
<path d="M58.0,1101.9 L74.5,1101.8 L76.1,1101.1 L76.7,1100.2 L77.3,1098.4 L78.4,1093.0 L79.5,1086.6 L82.5,1058.7 L83.5,1048.5 L86.0,1014.9 L88.2,998.8 L89.3,994.3 L89.9,993.7 L90.4,994.2 L91.0,995.6 L92.0,999.9 L92.5,1003.6 L95.5,1038.6 L97.0,1052.7 L99.0,1067.1 L100.1,1072.7 L101.8,1080.0 L102.9,1083.7 L105.0,1089.2 L106.0,1091.3 L107.5,1093.7 L109.5,1095.9 L112.0,1097.9 L116.0,1100.0 L119.0,1101.2 L121.0,1101.7 L123.0,1101.9 L425.9,1101.9" stroke="#c81e1e" stroke-width="2.6" fill="none" stroke-linejoin="round"/>
<path d="M58.0,1226.8 L74.5,1226.7 L75.5,1226.3 L77.0,1224.9 L77.5,1223.9 L78.0,1222.1 L79.5,1213.5 L80.5,1205.4 L82.0,1185.0 L84.7,1141.6 L85.3,1134.8 L86.3,1126.2 L86.8,1123.2 L87.3,1122.0 L87.8,1123.2 L88.9,1130.6 L90.5,1144.4 L94.0,1179.4 L95.5,1192.0 L97.1,1200.2 L98.7,1206.5 L99.8,1209.8 L100.9,1212.2 L102.4,1214.6 L104.0,1216.5 L107.0,1219.4 L110.1,1221.9 L114.3,1224.5 L116.9,1225.7 L121.0,1226.5 L125.0,1226.8 L425.9,1226.8" stroke="#8c8c8c" stroke-width="2.6" fill="none" stroke-linejoin="round"/>
<path d="M58.0,1226.8 L74.5,1226.7 L75.5,1226.3 L77.0,1224.9 L77.5,1223.9 L78.0,1222.1 L79.5,1213.5 L80.5,1205.4 L85.0,1140.8 L86.5,1124.0 L87.0,1119.9 L87.5,1118.3 L88.0,1119.0 L88.5,1120.9 L90.6,1134.3 L95.0,1179.9 L96.3,1190.2 L96.9,1193.4 L97.4,1194.8 L98.5,1196.8 L106.3,1208.0 L108.0,1210.0 L109.6,1211.4 L118.9,1218.5 L121.5,1220.2 L127.2,1223.1 L133.4,1225.3 L137.5,1226.4 L141.0,1226.8 L425.9,1226.8" stroke="#000" stroke-width="2.6" fill="none" stroke-linejoin="round"/>
<path d="M58.0,1226.8 L74.1,1226.8 L75.7,1226.6 L77.3,1226.0 L84.0,1222.2 L88.2,1219.3 L90.7,1217.0 L95.0,1211.9 L98.6,1208.7 L101.8,1207.1 L104.5,1206.4 L112.6,1206.8 L128.3,1209.0 L131.4,1209.7 L135.9,1211.6 L138.4,1212.1 L141.9,1211.8 L149.0,1210.5 L157.1,1209.5 L164.7,1208.9 L167.8,1209.2 L175.0,1211.5 L178.1,1212.1 L205.4,1211.6 L208.0,1211.2 L213.6,1209.3 L216.2,1208.9 L218.7,1209.4 L224.9,1212.2 L227.4,1212.6 L235.5,1211.6 L243.0,1211.1 L246.1,1210.4 L250.2,1209.0 L251.8,1208.3 L253.8,1207.0 L259.0,1202.7 L260.6,1201.0 L264.9,1195.5 L265.9,1194.6 L270.0,1191.7 L271.6,1189.5 L280.1,1170.7 L282.1,1167.3 L286.2,1162.1 L288.2,1158.2 L289.2,1154.8 L290.8,1148.0 L293.5,1131.2 L294.1,1128.9 L294.6,1127.8 L296.8,1126.5 L298.4,1126.2 L299.5,1126.6 L301.7,1128.6 L302.8,1129.0 L303.8,1128.5 L306.3,1125.5 L307.3,1125.0 L307.8,1125.2 L308.4,1125.8 L309.5,1127.9 L311.6,1132.9 L313.8,1139.3 L314.9,1141.7 L315.9,1143.0 L319.5,1146.1 L321.1,1148.8 L324.3,1157.0 L326.8,1164.9 L327.8,1167.3 L328.3,1168.1 L328.8,1168.4 L333.4,1168.9 L333.9,1169.0 L334.4,1169.4 L335.4,1171.8 L338.0,1181.0 L339.0,1183.6 L341.6,1187.2 L345.8,1191.3 L347.9,1193.8 L349.0,1195.5 L353.2,1203.8 L354.3,1205.2 L355.9,1206.6 L359.0,1208.9 L365.7,1212.8 L372.4,1217.6 L375.5,1219.6 L381.7,1222.4 L387.7,1224.5 L392.3,1225.5 L402.0,1226.7 L425.9,1226.8" stroke="#1e8a1e" stroke-width="2.6" fill="none" stroke-linejoin="round"/>
<path d="M58.0,1226.8 L74.0,1226.8 L74.6,1226.6 L75.1,1226.0 L76.8,1222.9 L77.3,1221.2 L78.4,1215.5 L83.7,1180.4 L85.3,1167.1 L87.5,1144.3 L89.5,1130.2 L90.5,1125.4 L91.0,1124.0 L92.0,1122.0 L94.1,1119.0 L95.1,1118.2 L96.1,1117.9 L96.7,1118.3 L97.3,1119.4 L101.0,1129.5 L104.7,1140.6 L113.8,1170.5 L117.5,1181.0 L119.7,1185.4 L121.3,1187.5 L122.8,1189.1 L138.2,1203.6 L142.3,1207.1 L145.3,1209.2 L149.4,1211.3 L153.5,1213.1 L158.6,1214.9 L175.3,1220.1 L179.9,1221.3 L184.5,1222.2 L193.1,1223.4 L202.7,1224.4 L222.4,1226.0 L231.9,1226.6 L240.0,1226.8 L425.9,1226.8" stroke="#c81e1e" stroke-width="2.6" fill="none" stroke-linejoin="round"/>
<path d="M58.0,1349.9 L74.5,1349.9 L75.5,1349.5 L77.0,1348.3 L78.0,1347.1 L78.5,1346.0 L79.0,1344.0 L80.0,1338.0 L81.5,1324.6 L85.0,1261.7 L86.1,1249.4 L86.7,1244.8 L87.3,1242.9 L87.8,1244.1 L88.4,1247.2 L90.1,1259.2 L95.5,1305.1 L97.1,1315.0 L98.2,1319.2 L99.3,1321.4 L101.5,1324.3 L106.9,1330.4 L109.6,1333.1 L119.0,1341.6 L125.5,1345.6 L130.0,1348.9 L131.5,1349.6 L133.0,1349.9 L425.9,1349.9" stroke="#000" stroke-width="2.6" fill="none" stroke-linejoin="round"/>
<path d="M58.0,1349.9 L74.5,1349.9 L75.5,1349.5 L77.0,1348.3 L78.0,1347.1 L78.5,1346.0 L79.0,1344.0 L80.0,1338.0 L81.5,1324.6 L85.0,1261.7 L85.5,1255.1 L86.5,1246.3 L87.0,1243.3 L87.5,1242.2 L88.0,1243.5 L88.5,1246.8 L95.5,1305.1 L97.7,1318.5 L99.8,1328.2 L100.9,1332.0 L102.0,1335.1 L103.6,1338.6 L105.8,1342.0 L108.4,1344.9 L110.4,1346.7 L112.0,1347.6 L116.0,1349.2 L118.0,1349.7 L120.0,1349.9 L425.9,1349.9" stroke="#8c8c8c" stroke-width="2.6" fill="none" stroke-linejoin="round"/>
<path d="M58.0,1349.9 L76.8,1349.9 L77.8,1349.7 L78.9,1349.1 L80.4,1347.8 L82.5,1345.4 L86.0,1338.1 L93.4,1327.0 L94.5,1325.7 L97.0,1323.1 L98.1,1322.3 L99.1,1321.8 L100.1,1321.8 L101.8,1322.4 L104.5,1323.9 L107.0,1325.7 L108.5,1326.5 L118.0,1327.3 L120.0,1327.9 L128.3,1331.3 L130.4,1331.9 L134.9,1332.5 L152.6,1334.4 L156.2,1334.6 L160.8,1334.6 L173.2,1333.9 L185.7,1332.4 L190.9,1331.6 L210.3,1327.2 L223.0,1325.1 L233.0,1323.1 L238.5,1321.6 L249.5,1317.9 L251.5,1316.9 L253.5,1315.5 L258.5,1310.6 L260.5,1308.1 L269.5,1295.7 L272.1,1291.2 L274.7,1285.9 L277.8,1278.9 L280.8,1271.1 L282.8,1267.0 L285.9,1262.2 L289.7,1258.1 L290.3,1256.8 L292.0,1250.9 L292.6,1249.7 L294.3,1247.7 L295.4,1246.9 L296.0,1246.8 L297.6,1247.4 L301.4,1249.9 L303.4,1251.5 L306.0,1254.1 L308.5,1257.6 L310.1,1260.5 L311.7,1264.9 L312.9,1268.6 L314.5,1275.4 L315.1,1276.7 L316.1,1277.8 L319.1,1279.7 L320.6,1281.0 L322.6,1283.2 L324.1,1285.4 L325.7,1288.8 L330.3,1300.5 L337.0,1314.5 L339.0,1318.0 L341.0,1319.9 L347.6,1324.5 L350.3,1326.6 L356.7,1334.4 L358.8,1336.4 L361.4,1338.2 L364.5,1339.8 L371.7,1342.7 L378.0,1345.6 L383.6,1347.7 L390.3,1349.4 L395.0,1349.9 L425.9,1349.9" stroke="#1e8a1e" stroke-width="2.6" fill="none" stroke-linejoin="round"/>
<path d="M58.0,1349.9 L75.5,1349.8 L77.5,1349.2 L79.5,1348.1 L80.0,1346.7 L81.0,1339.6 L82.0,1330.1 L84.0,1305.1 L86.2,1283.7 L88.4,1259.1 L89.0,1255.1 L90.7,1246.8 L91.8,1242.9 L92.3,1241.8 L92.9,1241.4 L93.4,1241.7 L93.9,1242.6 L96.0,1248.1 L98.5,1254.0 L102.6,1262.4 L104.1,1266.4 L105.8,1271.8 L108.0,1280.1 L113.2,1302.1 L113.8,1303.9 L114.8,1305.9 L116.5,1307.7 L117.5,1308.4 L119.7,1309.2 L120.8,1310.2 L128.8,1322.0 L130.9,1324.4 L133.4,1326.6 L139.1,1330.5 L143.3,1333.0 L148.4,1335.3 L156.0,1338.0 L165.7,1340.9 L174.0,1343.1 L181.5,1344.8 L189.0,1346.1 L199.6,1347.3 L233.5,1349.7 L240.0,1349.9 L425.9,1349.9" stroke="#c81e1e" stroke-width="2.6" fill="none" stroke-linejoin="round"/>
<path d="M58.0,1474.3 L74.5,1474.2 L75.5,1473.7 L76.5,1472.6 L77.0,1472.0 L77.5,1470.8 L79.0,1462.6 L80.5,1450.4 L85.5,1384.7 L87.0,1372.0 L87.5,1369.1 L88.0,1368.0 L88.5,1368.7 L89.1,1370.6 L90.2,1376.4 L90.8,1382.0 L92.5,1404.2 L95.4,1434.4 L97.1,1449.8 L98.2,1456.8 L99.3,1460.0 L100.4,1462.3 L104.2,1468.1 L105.8,1469.9 L106.8,1470.7 L108.9,1471.8 L111.0,1472.7 L116.1,1473.9 L119.7,1474.3 L425.9,1474.3" stroke="#8c8c8c" stroke-width="2.6" fill="none" stroke-linejoin="round"/>
<path d="M58.0,1474.3 L74.6,1474.2 L75.7,1473.8 L76.8,1473.0 L77.3,1471.9 L77.9,1469.8 L78.9,1463.2 L80.5,1450.4 L81.5,1438.0 L85.0,1385.9 L86.5,1370.2 L87.0,1366.6 L87.5,1365.2 L88.0,1365.8 L89.0,1369.8 L90.6,1378.4 L92.9,1395.2 L94.0,1400.5 L96.3,1410.2 L96.9,1411.3 L97.4,1411.0 L99.0,1409.0 L100.7,1407.9 L102.3,1407.3 L102.8,1407.7 L104.0,1410.4 L105.1,1414.1 L109.5,1434.6 L112.7,1448.7 L114.3,1454.2 L115.9,1458.2 L118.5,1463.2 L120.0,1465.4 L122.0,1467.7 L124.0,1469.6 L127.0,1471.7 L129.0,1473.0 L131.0,1473.9 L133.0,1474.3 L425.9,1474.3" stroke="#000" stroke-width="2.6" fill="none" stroke-linejoin="round"/>
<path d="M58.0,1474.3 L76.8,1474.3 L77.8,1474.1 L78.9,1473.6 L85.6,1469.0 L90.2,1465.0 L92.3,1462.7 L102.1,1450.4 L104.7,1447.8 L107.9,1445.3 L111.0,1443.5 L117.0,1440.8 L124.0,1437.0 L129.9,1434.4 L131.5,1433.3 L134.7,1430.2 L135.8,1429.5 L138.4,1428.6 L144.0,1427.2 L146.0,1426.8 L147.0,1426.8 L148.5,1427.5 L157.2,1432.7 L160.9,1435.5 L163.1,1436.3 L164.7,1436.7 L165.8,1436.5 L167.9,1434.2 L168.5,1434.0 L172.0,1434.1 L172.5,1434.3 L173.5,1435.5 L176.0,1440.0 L179.2,1444.3 L180.8,1445.9 L182.8,1446.8 L189.0,1448.3 L195.2,1450.4 L200.0,1453.0 L203.2,1455.8 L204.9,1456.7 L206.4,1456.7 L209.5,1456.1 L213.1,1455.7 L217.2,1455.6 L219.8,1456.1 L225.0,1457.7 L235.0,1460.3 L238.5,1460.8 L242.1,1460.9 L247.2,1460.4 L253.4,1459.5 L254.9,1459.0 L258.6,1457.3 L260.1,1456.8 L263.2,1456.2 L272.0,1455.1 L276.5,1453.9 L281.5,1451.5 L285.1,1448.9 L291.7,1442.6 L293.8,1440.2 L295.8,1437.5 L297.4,1434.7 L301.6,1424.7 L305.9,1417.4 L307.5,1414.2 L312.5,1400.4 L317.1,1389.9 L318.1,1388.5 L319.1,1387.8 L323.9,1387.3 L324.9,1386.9 L325.9,1385.2 L327.9,1380.2 L331.0,1373.4 L332.0,1371.9 L332.5,1371.7 L333.0,1371.9 L333.5,1372.4 L335.5,1375.7 L336.0,1376.2 L336.5,1376.4 L337.6,1376.2 L341.3,1374.5 L341.8,1374.4 L342.3,1374.8 L343.4,1377.6 L345.6,1386.0 L346.7,1388.8 L347.2,1389.2 L347.7,1389.1 L348.7,1388.8 L352.2,1386.7 L353.2,1386.5 L353.7,1386.8 L354.8,1388.8 L356.9,1394.8 L357.9,1396.5 L359.4,1397.3 L363.0,1398.6 L364.0,1399.2 L364.5,1399.8 L365.5,1402.3 L367.6,1408.8 L368.6,1411.3 L370.6,1414.5 L375.2,1419.9 L376.7,1422.0 L379.8,1427.0 L382.4,1431.9 L383.9,1435.4 L387.1,1445.0 L388.7,1448.8 L390.8,1451.7 L395.4,1456.8 L400.5,1464.1 L402.5,1466.6 L404.6,1468.4 L406.7,1469.8 L409.3,1471.1 L412.9,1472.5 L417.0,1473.5 L425.2,1474.3" stroke="#1e8a1e" stroke-width="2.6" fill="none" stroke-linejoin="round"/>
<path d="M58.0,1474.3 L74.6,1474.2 L75.7,1473.8 L76.8,1473.0 L77.3,1472.1 L78.4,1468.0 L89.1,1414.7 L90.2,1408.6 L92.4,1389.1 L94.1,1378.0 L95.8,1369.2 L96.3,1367.6 L96.9,1367.0 L97.4,1367.2 L97.9,1367.8 L100.5,1373.1 L107.3,1392.5 L115.5,1410.9 L119.0,1417.9 L122.0,1423.4 L125.6,1429.1 L128.8,1433.5 L131.9,1437.1 L135.5,1440.6 L140.1,1444.7 L144.3,1447.9 L148.9,1450.7 L159.6,1456.8 L163.6,1458.6 L168.9,1460.5 L177.5,1463.2 L185.0,1465.3 L193.0,1467.2 L201.1,1468.8 L209.3,1470.1 L221.9,1471.7 L231.4,1472.7 L239.5,1473.3 L256.0,1474.0 L268.5,1474.3 L425.9,1474.3" stroke="#c81e1e" stroke-width="2.6" fill="none" stroke-linejoin="round"/>
<path d="M58.0,1597.8 L74.5,1597.7 L75.5,1597.3 L76.5,1596.6 L77.0,1596.1 L77.5,1594.9 L78.0,1592.4 L79.0,1584.9 L80.5,1569.9 L83.0,1530.6 L85.0,1504.8 L86.5,1494.3 L87.0,1492.1 L87.5,1491.3 L88.0,1492.1 L88.5,1494.3 L90.0,1504.9 L94.6,1560.6 L95.6,1569.0 L97.3,1577.9 L99.0,1583.6 L100.5,1586.6 L102.1,1588.7 L105.2,1592.6 L106.9,1594.3 L109.5,1596.0 L112.5,1597.3 L115.0,1597.8 L425.9,1597.8" stroke="#8c8c8c" stroke-width="2.6" fill="none" stroke-linejoin="round"/>
<path d="M58.0,1597.8 L77.0,1597.7 L79.5,1597.1 L80.0,1596.8 L81.0,1595.4 L84.5,1587.4 L86.1,1583.5 L94.4,1560.3 L97.0,1552.4 L102.1,1534.7 L104.2,1526.4 L106.4,1515.9 L110.1,1502.6 L111.1,1500.1 L111.6,1499.4 L113.3,1497.8 L114.4,1497.2 L115.0,1497.1 L118.3,1497.2 L118.8,1497.4 L119.9,1498.8 L122.0,1502.6 L125.0,1510.1 L130.0,1518.6 L133.5,1526.5 L136.2,1532.0 L138.4,1535.6 L140.9,1538.3 L143.5,1540.4 L152.6,1547.3 L157.2,1550.3 L161.9,1552.9 L164.1,1554.5 L166.3,1556.5 L168.9,1559.5 L175.5,1568.5 L178.0,1570.6 L182.5,1573.4 L189.4,1577.1 L197.0,1582.6 L204.9,1587.5 L213.0,1591.7 L221.1,1595.0 L225.7,1596.1 L232.4,1597.1 L237.5,1597.5 L247.5,1597.8 L425.9,1597.8" stroke="#1e8a1e" stroke-width="2.6" fill="none" stroke-linejoin="round"/>
<path d="M58.0,1597.8 L74.6,1597.8 L76.8,1597.2 L77.3,1596.0 L78.4,1589.4 L80.5,1571.1 L86.0,1504.3 L86.5,1500.6 L87.7,1494.3 L88.3,1492.1 L88.9,1491.3 L89.4,1492.0 L90.5,1496.1 L91.5,1501.3 L92.6,1508.0 L94.2,1520.8 L97.7,1557.0 L99.3,1567.1 L101.0,1573.6 L102.6,1578.0 L104.7,1582.5 L106.3,1585.1 L108.9,1588.4 L111.0,1590.3 L113.5,1592.0 L116.6,1593.5 L120.7,1594.9 L125.4,1596.3 L129.0,1597.0 L135.0,1597.6 L139.5,1597.8 L425.9,1597.8" stroke="#c81e1e" stroke-width="2.6" fill="none" stroke-linejoin="round"/>
<line x1="47.8" y1="1597.8" x2="425.9" y2="1597.8" stroke="#000" stroke-width="2.5"/>
<text x="488.24" y="501" font-size="64" font-weight="bold" fill="#000">e</text>
<line x1="609.3" y1="562.5" x2="609.3" y2="804" stroke="#000" stroke-width="2.8"/>
<line x1="598.5" y1="793.8" x2="934.6" y2="793.8" stroke="#000" stroke-width="2.8"/>
<line x1="598.5" y1="562.5" x2="609.3" y2="562.5" stroke="#000" stroke-width="2.8"/>
<text x="547.3" y="574.1" font-size="32" fill="#000">5.0</text>
<line x1="598.5" y1="678.2" x2="609.3" y2="678.2" stroke="#000" stroke-width="2.8"/>
<text x="547.3" y="689.8" font-size="32" fill="#000">2.5</text>
<line x1="598.5" y1="793.8" x2="609.3" y2="793.8" stroke="#000" stroke-width="2.8"/>
<text x="574.02" y="805.4" font-size="32" fill="#000">0</text>
<line x1="609.3" y1="793.8" x2="609.3" y2="804" stroke="#000" stroke-width="2.8"/>
<line x1="655.63" y1="793.8" x2="655.63" y2="804" stroke="#000" stroke-width="2.8"/>
<line x1="701.96" y1="793.8" x2="701.96" y2="804" stroke="#000" stroke-width="2.8"/>
<line x1="748.29" y1="793.8" x2="748.29" y2="804" stroke="#000" stroke-width="2.8"/>
<line x1="794.62" y1="793.8" x2="794.62" y2="804" stroke="#000" stroke-width="2.8"/>
<line x1="840.95" y1="793.8" x2="840.95" y2="804" stroke="#000" stroke-width="2.8"/>
<line x1="887.28" y1="793.8" x2="887.28" y2="804" stroke="#000" stroke-width="2.8"/>
<line x1="933.61" y1="793.8" x2="933.61" y2="804" stroke="#000" stroke-width="2.8"/>
<line x1="631.85" y1="640.4" x2="631.85" y2="578.8" stroke="#000" stroke-width="2.8"/>
<line x1="621.85" y1="578.8" x2="641.85" y2="578.8" stroke="#000" stroke-width="2.8"/>
<rect x="620.75" y="641.65" width="22.2" height="152.15" fill="#FFCC99" stroke="#000" stroke-width="2.5"/>
<line x1="679.05" y1="694.9" x2="679.05" y2="642.4" stroke="#000" stroke-width="2.8"/>
<line x1="669.05" y1="642.4" x2="689.05" y2="642.4" stroke="#000" stroke-width="2.8"/>
<rect x="668.45" y="696.15" width="21.2" height="97.65" fill="#FFCC99" stroke="#000" stroke-width="2.5"/>
<line x1="724.75" y1="647.5" x2="724.75" y2="587.9" stroke="#000" stroke-width="2.8"/>
<line x1="714.75" y1="587.9" x2="734.75" y2="587.9" stroke="#000" stroke-width="2.8"/>
<rect x="714.15" y="648.75" width="21.2" height="145.05" fill="#FFCC99" stroke="#000" stroke-width="2.5"/>
<line x1="770.8" y1="672.9" x2="770.8" y2="618.4" stroke="#000" stroke-width="2.8"/>
<line x1="760.8" y1="618.4" x2="780.8" y2="618.4" stroke="#000" stroke-width="2.8"/>
<rect x="760.55" y="674.15" width="20.5" height="119.65" fill="#FFCC99" stroke="#000" stroke-width="2.5"/>
<line x1="817.55" y1="780.2" x2="817.55" y2="771.7" stroke="#000" stroke-width="2.8"/>
<line x1="807.55" y1="771.7" x2="827.55" y2="771.7" stroke="#000" stroke-width="2.8"/>
<rect x="806.95" y="781.45" width="21.2" height="12.35" fill="#FFCC99" stroke="#000" stroke-width="2.5"/>
<line x1="863.55" y1="788.7" x2="863.55" y2="783.6" stroke="#000" stroke-width="2.8"/>
<line x1="853.55" y1="783.6" x2="873.55" y2="783.6" stroke="#000" stroke-width="2.8"/>
<rect x="852.95" y="789.95" width="21.2" height="3.85" fill="#FFCC99" stroke="#000" stroke-width="2.5"/>
<line x1="910.25" y1="746.4" x2="910.25" y2="723.5" stroke="#000" stroke-width="2.8"/>
<line x1="900.25" y1="723.5" x2="920.25" y2="723.5" stroke="#000" stroke-width="2.8"/>
<rect x="899.35" y="747.65" width="21.8" height="46.15" fill="#FFCC99" stroke="#000" stroke-width="2.5"/>
<polyline points="633.3,573.7 633.3,491.1 917.9,491.1 917.9,711.7" stroke="#000" stroke-width="2.8" fill="none"/>
<polyline points="724.3,575.4 724.3,541.6 910.5,541.6 910.5,711.7" stroke="#000" stroke-width="2.8" fill="none"/>
<polyline points="771.1,612.6 771.1,603.2 901.6,603.2 901.6,711.7" stroke="#000" stroke-width="2.8" fill="none"/>
<text x="724.48" y="482" font-size="29.5" fill="#000">p=0.047</text>
<text x="765.08" y="533.6" font-size="29.5" fill="#000">p=0.050</text>
<text x="782.78" y="594.5" font-size="29.5" fill="#000">p=0.077</text>
<text x="534.2" y="822.24" font-size="32" fill="#000" transform="rotate(-90 534.2 822.24)">Osteolytic area (AU)</text>
<text x="643.35" y="869.06" font-size="32" fill="#000" transform="rotate(-90 643.35 869.06)">Fut3</text>
<text x="690.55" y="869.06" font-size="32" fill="#000" transform="rotate(-90 690.55 869.06)">Fut4</text>
<text x="736.25" y="869.06" font-size="32" fill="#000" transform="rotate(-90 736.25 869.06)">Fut5</text>
<text x="782.3" y="869.06" font-size="32" fill="#000" transform="rotate(-90 782.3 869.06)">Fut6</text>
<text x="829.05" y="869.06" font-size="32" fill="#000" transform="rotate(-90 829.05 869.06)">Fut7</text>
<text x="875.05" y="869.06" font-size="32" fill="#000" transform="rotate(-90 875.05 869.06)">Fut9</text>
<text x="921.75" y="866.66" font-size="32" fill="#000" transform="rotate(-90 921.75 866.66)">Vec</text>
<text x="957.34" y="501" font-size="64" font-weight="bold" fill="#000">f</text>
<line x1="1088.6" y1="562.8" x2="1088.6" y2="804" stroke="#000" stroke-width="2.8"/>
<line x1="1080.4" y1="793.8" x2="1414.7" y2="793.8" stroke="#000" stroke-width="2.8"/>
<line x1="1080.4" y1="562.8" x2="1088.6" y2="562.8" stroke="#000" stroke-width="2.8"/>
<text x="1052.4" y="574.4" font-size="32" fill="#000">4</text>
<line x1="1080.4" y1="678.3" x2="1088.6" y2="678.3" stroke="#000" stroke-width="2.8"/>
<text x="1053.04" y="689.9" font-size="32" fill="#000">2</text>
<line x1="1080.4" y1="793.8" x2="1088.6" y2="793.8" stroke="#000" stroke-width="2.8"/>
<text x="1052.72" y="805.4" font-size="32" fill="#000">0</text>
<line x1="1088.6" y1="793.8" x2="1088.6" y2="804" stroke="#000" stroke-width="2.8"/>
<line x1="1135.04" y1="793.8" x2="1135.04" y2="804" stroke="#000" stroke-width="2.8"/>
<line x1="1181.48" y1="793.8" x2="1181.48" y2="804" stroke="#000" stroke-width="2.8"/>
<line x1="1227.92" y1="793.8" x2="1227.92" y2="804" stroke="#000" stroke-width="2.8"/>
<line x1="1274.36" y1="793.8" x2="1274.36" y2="804" stroke="#000" stroke-width="2.8"/>
<line x1="1320.8" y1="793.8" x2="1320.8" y2="804" stroke="#000" stroke-width="2.8"/>
<line x1="1367.24" y1="793.8" x2="1367.24" y2="804" stroke="#000" stroke-width="2.8"/>
<line x1="1413.68" y1="793.8" x2="1413.68" y2="804" stroke="#000" stroke-width="2.8"/>
<line x1="1112.85" y1="653.9" x2="1112.85" y2="635.4" stroke="#000" stroke-width="2.8"/>
<line x1="1102.85" y1="635.4" x2="1122.85" y2="635.4" stroke="#000" stroke-width="2.8"/>
<rect x="1102.05" y="655.15" width="21.6" height="138.65" fill="#FFCC99" stroke="#000" stroke-width="2.5"/>
<line x1="1158.45" y1="719.9" x2="1158.45" y2="706.7" stroke="#000" stroke-width="2.8"/>
<line x1="1148.45" y1="706.7" x2="1168.45" y2="706.7" stroke="#000" stroke-width="2.8"/>
<rect x="1147.65" y="721.15" width="21.6" height="72.65" fill="#FFCC99" stroke="#000" stroke-width="2.5"/>
<line x1="1204.1" y1="613.9" x2="1204.1" y2="572" stroke="#000" stroke-width="2.8"/>
<line x1="1194.1" y1="572" x2="1214.1" y2="572" stroke="#000" stroke-width="2.8"/>
<rect x="1193.15" y="615.15" width="21.9" height="178.65" fill="#FFCC99" stroke="#000" stroke-width="2.5"/>
<line x1="1250.85" y1="619.9" x2="1250.85" y2="586.2" stroke="#000" stroke-width="2.8"/>
<line x1="1240.85" y1="586.2" x2="1260.85" y2="586.2" stroke="#000" stroke-width="2.8"/>
<rect x="1240.05" y="621.15" width="21.6" height="172.65" fill="#FFCC99" stroke="#000" stroke-width="2.5"/>
<line x1="1296.7" y1="745.3" x2="1296.7" y2="717.2" stroke="#000" stroke-width="2.8"/>
<line x1="1286.7" y1="717.2" x2="1306.7" y2="717.2" stroke="#000" stroke-width="2.8"/>
<rect x="1285.55" y="746.55" width="22.3" height="47.25" fill="#FFCC99" stroke="#000" stroke-width="2.5"/>
<line x1="1342.25" y1="751.9" x2="1342.25" y2="734.7" stroke="#000" stroke-width="2.8"/>
<line x1="1332.25" y1="734.7" x2="1352.25" y2="734.7" stroke="#000" stroke-width="2.8"/>
<rect x="1331.45" y="753.15" width="21.6" height="40.65" fill="#FFCC99" stroke="#000" stroke-width="2.5"/>
<line x1="1389.45" y1="740" x2="1389.45" y2="725.1" stroke="#000" stroke-width="2.8"/>
<line x1="1379.45" y1="725.1" x2="1399.45" y2="725.1" stroke="#000" stroke-width="2.8"/>
<rect x="1378.65" y="741.25" width="21.6" height="52.55" fill="#FFCC99" stroke="#000" stroke-width="2.5"/>
<polyline points="1111.7,616.6 1111.7,490.2 1395.8,490.2 1395.8,714.7" stroke="#000" stroke-width="2.8" fill="none"/>
<polyline points="1203.5,557.2 1203.5,529.8 1388.5,529.8 1388.5,714.7" stroke="#000" stroke-width="2.8" fill="none"/>
<polyline points="1250.3,580.3 1250.3,570.4 1380.9,570.4 1380.9,714.7" stroke="#000" stroke-width="2.8" fill="none"/>
<text x="1205.48" y="482" font-size="29.5" fill="#000">p=0.007</text>
<text x="1245.08" y="521.4" font-size="29.5" fill="#000">p=0.003</text>
<text x="1258.28" y="559.3" font-size="29.5" fill="#000">p=0.004</text>
<text x="1037.5" y="807.26" font-size="32" fill="#000" transform="rotate(-90 1037.5 807.26)">Lesions/ hundlimb</text>
<text x="1124.35" y="868.26" font-size="32" fill="#000" transform="rotate(-90 1124.35 868.26)">Fut3</text>
<text x="1169.95" y="868.26" font-size="32" fill="#000" transform="rotate(-90 1169.95 868.26)">Fut4</text>
<text x="1215.6" y="868.26" font-size="32" fill="#000" transform="rotate(-90 1215.6 868.26)">Fut5</text>
<text x="1262.35" y="868.26" font-size="32" fill="#000" transform="rotate(-90 1262.35 868.26)">Fut6</text>
<text x="1308.2" y="868.26" font-size="32" fill="#000" transform="rotate(-90 1308.2 868.26)">Fut7</text>
<text x="1353.75" y="868.26" font-size="32" fill="#000" transform="rotate(-90 1353.75 868.26)">Fut9</text>
<text x="1400.95" y="865.86" font-size="32" fill="#000" transform="rotate(-90 1400.95 865.86)">Vec</text>
<text x="487.34" y="934.5" font-size="64" font-weight="bold" fill="#000">g</text>
<line x1="597.3" y1="940" x2="597.3" y2="1224" stroke="#000" stroke-width="2.8"/>
<line x1="584.7" y1="1213.7" x2="1024.2" y2="1213.7" stroke="#000" stroke-width="2.8"/>
<line x1="584.7" y1="940.1" x2="597.3" y2="940.1" stroke="#000" stroke-width="2.8"/>
<path d="M553.76,951.70 L550.95,951.70 L550.95,933.78 Q549.94,934.75 548.28,935.72 Q546.62,936.68 545.31,937.17 L545.31,934.45 Q547.67,933.34 549.44,931.76 Q551.20,930.18 551.94,928.70 L553.76,928.70 Z" fill="#000"/>
<text x="559.64" y="951.7" font-size="32" fill="#000">2</text>
<line x1="584.7" y1="1031.3" x2="597.3" y2="1031.3" stroke="#000" stroke-width="2.8"/>
<text x="559.32" y="1042.9" font-size="32" fill="#000">8</text>
<line x1="584.7" y1="1122.5" x2="597.3" y2="1122.5" stroke="#000" stroke-width="2.8"/>
<text x="559" y="1134.1" font-size="32" fill="#000">4</text>
<line x1="584.7" y1="1213.7" x2="597.3" y2="1213.7" stroke="#000" stroke-width="2.8"/>
<text x="559.32" y="1225.3" font-size="32" fill="#000">0</text>
<line x1="597.3" y1="1213.7" x2="597.3" y2="1224.5" stroke="#000" stroke-width="2.8"/>
<line x1="668.35" y1="1213.7" x2="668.35" y2="1224.5" stroke="#000" stroke-width="2.8"/>
<line x1="739.4" y1="1213.7" x2="739.4" y2="1224.5" stroke="#000" stroke-width="2.8"/>
<line x1="810.45" y1="1213.7" x2="810.45" y2="1224.5" stroke="#000" stroke-width="2.8"/>
<line x1="881.5" y1="1213.7" x2="881.5" y2="1224.5" stroke="#000" stroke-width="2.8"/>
<line x1="952.55" y1="1213.7" x2="952.55" y2="1224.5" stroke="#000" stroke-width="2.8"/>
<line x1="1023.6" y1="1213.7" x2="1023.6" y2="1224.5" stroke="#000" stroke-width="2.8"/>
<line x1="619.6" y1="1047.26" x2="619.6" y2="1086.02" stroke="#000" stroke-width="2.8"/>
<line x1="619.6" y1="1124.78" x2="619.6" y2="1181.78" stroke="#000" stroke-width="2.8"/>
<line x1="613.1" y1="1047.26" x2="626.1" y2="1047.26" stroke="#000" stroke-width="2.8"/>
<line x1="613.1" y1="1181.78" x2="626.1" y2="1181.78" stroke="#000" stroke-width="2.8"/>
<rect x="611.7" y="1086.02" width="15.8" height="38.76" fill="none" stroke="#000" stroke-width="2.5"/>
<line x1="611.7" y1="1099.7" x2="627.5" y2="1099.7" stroke="#000" stroke-width="2.8"/>
<line x1="642.7" y1="944.66" x2="642.7" y2="1054.1" stroke="#e31a1c" stroke-width="2.8"/>
<line x1="642.7" y1="1152.14" x2="642.7" y2="1213.7" stroke="#e31a1c" stroke-width="2.8"/>
<line x1="636.2" y1="944.66" x2="649.2" y2="944.66" stroke="#e31a1c" stroke-width="2.8"/>
<rect x="634.8" y="1054.1" width="15.8" height="98.04" fill="none" stroke="#e31a1c" stroke-width="2.5"/>
<line x1="634.8" y1="1106.54" x2="650.6" y2="1106.54" stroke="#e31a1c" stroke-width="2.8"/>
<text x="606.4" y="1244.5" font-size="30" fill="#000">N</text>
<text x="635.05" y="1244.5" font-size="30" fill="#e31a1c">T</text>
<text x="601.36" y="1280.6" font-size="29.5" font-style="italic" fill="#000">Fut3</text>
<line x1="689.9" y1="1010.78" x2="689.9" y2="1024.46" stroke="#000" stroke-width="2.8"/>
<line x1="689.9" y1="1039.28" x2="689.9" y2="1056.38" stroke="#000" stroke-width="2.8"/>
<line x1="683.4" y1="1010.78" x2="696.4" y2="1010.78" stroke="#000" stroke-width="2.8"/>
<line x1="683.4" y1="1056.38" x2="696.4" y2="1056.38" stroke="#000" stroke-width="2.8"/>
<rect x="682" y="1024.46" width="15.8" height="14.82" fill="none" stroke="#000" stroke-width="2.5"/>
<line x1="682" y1="1031.76" x2="697.8" y2="1031.76" stroke="#000" stroke-width="2.8"/>
<line x1="713.4" y1="1006.22" x2="713.4" y2="1038.14" stroke="#e31a1c" stroke-width="2.8"/>
<line x1="713.4" y1="1063.22" x2="713.4" y2="1092.86" stroke="#e31a1c" stroke-width="2.8"/>
<line x1="706.9" y1="1006.22" x2="719.9" y2="1006.22" stroke="#e31a1c" stroke-width="2.8"/>
<line x1="706.9" y1="1092.86" x2="719.9" y2="1092.86" stroke="#e31a1c" stroke-width="2.8"/>
<rect x="705.5" y="1038.14" width="15.8" height="25.08" fill="none" stroke="#e31a1c" stroke-width="2.5"/>
<line x1="705.5" y1="1049.54" x2="721.3" y2="1049.54" stroke="#e31a1c" stroke-width="2.8"/>
<text x="676.7" y="1244.5" font-size="30" fill="#000">N</text>
<text x="705.75" y="1244.5" font-size="30" fill="#e31a1c">T</text>
<text x="672.22" y="1280.6" font-size="29.5" font-style="italic" fill="#000">Fut4</text>
<line x1="761" y1="1158.98" x2="761" y2="1186.34" stroke="#000" stroke-width="2.8"/>
<line x1="761" y1="1213.7" x2="761" y2="1213.7" stroke="#000" stroke-width="2.8"/>
<line x1="754.5" y1="1158.98" x2="767.5" y2="1158.98" stroke="#000" stroke-width="2.8"/>
<rect x="753.1" y="1186.34" width="15.8" height="27.36" fill="none" stroke="#000" stroke-width="2.5"/>
<line x1="753.1" y1="1197.74" x2="768.9" y2="1197.74" stroke="#000" stroke-width="2.8"/>
<line x1="784.5" y1="1147.58" x2="784.5" y2="1186.34" stroke="#e31a1c" stroke-width="2.8"/>
<line x1="784.5" y1="1213.7" x2="784.5" y2="1213.7" stroke="#e31a1c" stroke-width="2.8"/>
<line x1="778" y1="1147.58" x2="791" y2="1147.58" stroke="#e31a1c" stroke-width="2.8"/>
<rect x="776.6" y="1186.34" width="15.8" height="27.36" fill="none" stroke="#e31a1c" stroke-width="2.5"/>
<line x1="776.6" y1="1202.3" x2="792.4" y2="1202.3" stroke="#e31a1c" stroke-width="2.8"/>
<text x="747.8" y="1244.5" font-size="30" fill="#000">N</text>
<text x="776.85" y="1244.5" font-size="30" fill="#e31a1c">T</text>
<text x="742.73" y="1280.6" font-size="29.5" font-style="italic" fill="#000">Fut5</text>
<line x1="831.5" y1="1035.86" x2="831.5" y2="1074.62" stroke="#000" stroke-width="2.8"/>
<line x1="831.5" y1="1140.74" x2="831.5" y2="1213.7" stroke="#000" stroke-width="2.8"/>
<line x1="825" y1="1035.86" x2="838" y2="1035.86" stroke="#000" stroke-width="2.8"/>
<rect x="823.6" y="1074.62" width="15.8" height="66.12" fill="none" stroke="#000" stroke-width="2.5"/>
<line x1="823.6" y1="1104.26" x2="839.4" y2="1104.26" stroke="#000" stroke-width="2.8"/>
<line x1="855.6" y1="990.26" x2="855.6" y2="1106.54" stroke="#e31a1c" stroke-width="2.8"/>
<line x1="855.6" y1="1186.34" x2="855.6" y2="1213.7" stroke="#e31a1c" stroke-width="2.8"/>
<line x1="849.1" y1="990.26" x2="862.1" y2="990.26" stroke="#e31a1c" stroke-width="2.8"/>
<rect x="847.7" y="1106.54" width="15.8" height="79.8" fill="none" stroke="#e31a1c" stroke-width="2.5"/>
<line x1="847.7" y1="1152.14" x2="863.5" y2="1152.14" stroke="#e31a1c" stroke-width="2.8"/>
<text x="818.3" y="1244.5" font-size="30" fill="#000">N</text>
<text x="847.95" y="1244.5" font-size="30" fill="#e31a1c">T</text>
<text x="813.61" y="1280.6" font-size="29.5" font-style="italic" fill="#000">Fut6</text>
<line x1="903.2" y1="1117.94" x2="903.2" y2="1156.7" stroke="#000" stroke-width="2.8"/>
<line x1="903.2" y1="1184.06" x2="903.2" y2="1213.7" stroke="#000" stroke-width="2.8"/>
<line x1="896.7" y1="1117.94" x2="909.7" y2="1117.94" stroke="#000" stroke-width="2.8"/>
<rect x="895.3" y="1156.7" width="15.8" height="27.36" fill="none" stroke="#000" stroke-width="2.5"/>
<line x1="895.3" y1="1170.38" x2="911.1" y2="1170.38" stroke="#000" stroke-width="2.8"/>
<line x1="927.3" y1="1054.1" x2="927.3" y2="1115.66" stroke="#e31a1c" stroke-width="2.8"/>
<line x1="927.3" y1="1158.98" x2="927.3" y2="1213.7" stroke="#e31a1c" stroke-width="2.8"/>
<line x1="920.8" y1="1054.1" x2="933.8" y2="1054.1" stroke="#e31a1c" stroke-width="2.8"/>
<rect x="919.4" y="1115.66" width="15.8" height="43.32" fill="none" stroke="#e31a1c" stroke-width="2.5"/>
<line x1="919.4" y1="1138.46" x2="935.2" y2="1138.46" stroke="#e31a1c" stroke-width="2.8"/>
<text x="890" y="1244.5" font-size="30" fill="#000">N</text>
<text x="919.65" y="1244.5" font-size="30" fill="#e31a1c">T</text>
<text x="884.87" y="1280.6" font-size="29.5" font-style="italic" fill="#000">Fut7</text>
<line x1="974.7" y1="1017.62" x2="974.7" y2="1067.78" stroke="#000" stroke-width="2.8"/>
<line x1="974.7" y1="1113.38" x2="974.7" y2="1170.38" stroke="#000" stroke-width="2.8"/>
<line x1="968.2" y1="1017.62" x2="981.2" y2="1017.62" stroke="#000" stroke-width="2.8"/>
<line x1="968.2" y1="1170.38" x2="981.2" y2="1170.38" stroke="#000" stroke-width="2.8"/>
<rect x="966.8" y="1067.78" width="15.8" height="45.6" fill="none" stroke="#000" stroke-width="2.5"/>
<line x1="966.8" y1="1086.02" x2="982.6" y2="1086.02" stroke="#000" stroke-width="2.8"/>
<line x1="998.8" y1="974.3" x2="998.8" y2="1081.46" stroke="#e31a1c" stroke-width="2.8"/>
<line x1="998.8" y1="1163.54" x2="998.8" y2="1213.7" stroke="#e31a1c" stroke-width="2.8"/>
<line x1="992.3" y1="974.3" x2="1005.3" y2="974.3" stroke="#e31a1c" stroke-width="2.8"/>
<rect x="990.9" y="1081.46" width="15.8" height="82.08" fill="none" stroke="#e31a1c" stroke-width="2.5"/>
<line x1="990.9" y1="1127.06" x2="1006.7" y2="1127.06" stroke="#e31a1c" stroke-width="2.8"/>
<text x="961.5" y="1244.5" font-size="30" fill="#000">N</text>
<text x="991.15" y="1244.5" font-size="30" fill="#e31a1c">T</text>
<text x="957.1" y="1280.6" font-size="29.5" font-style="italic" fill="#000">Fut9</text>
<text transform="translate(538.9 1163.6) rotate(-90)" font-size="32">Log<tspan font-size="21" dy="7">2</tspan><tspan dy="-7">(RPKM)</tspan></text>
<text x="1056.82" y="936" font-size="64" font-weight="bold" fill="#000">h</text>
<rect x="1157" y="980" width="48.3" height="253.3" fill="#CCFFCC"/>
<rect x="1292.8" y="982.7" width="79.2" height="250.6" fill="#FFCC99"/>
<line x1="1155.2" y1="981.3" x2="1155.2" y2="1242.7" stroke="#000" stroke-width="2.8"/>
<line x1="1145.3" y1="981.3" x2="1155.2" y2="981.3" stroke="#000" stroke-width="2.8"/>
<line x1="1145.3" y1="1233.3" x2="1402" y2="1233.3" stroke="#000" stroke-width="2.8"/>
<line x1="1402" y1="1233.3" x2="1402" y2="1242.7" stroke="#000" stroke-width="2.8"/>
<polyline points="1157.1,1232 1161,1231 1164.8,1229 1167.5,1224 1170.5,1215.6 1173,1204 1175.2,1189 1177.5,1170 1180,1150.9 1183,1133 1185.7,1118.5 1188.5,1101 1191.4,1086.1 1194,1078 1197.1,1072.8 1200.5,1067.1 1201.5,1052 1202.8,1036.6 1206.6,1030.9 1210,1024 1213.3,1017.6 1216.2,1008.1 1219,990 1221.9,1000.5 1225.7,1002.4 1228.5,981.4 1231,988 1233.3,991 1237.1,995.7 1240.9,981.4 1243.5,985 1246.6,986.2 1249.5,1004.3 1253.3,1000.5 1258,1003.3 1260,1012 1261.9,1025.2 1264,1035 1266.6,1045.2 1270.4,1043.3 1273.5,1058 1277.1,1074.7 1280.5,1084 1284.7,1095.7 1288.5,1111 1292.3,1128 1296.1,1133.7 1299.9,1152.8 1303.7,1158.5 1306.5,1168 1309.5,1179.4 1313.3,1187.1 1317,1197 1320.9,1206.1 1324.5,1211 1328.5,1215.6 1336.1,1223.2 1345.6,1229.9 1357.1,1231.8 1362,1232.3" stroke="#ee3b22" stroke-width="1.8" fill="none" stroke-linejoin="round"/>
<text x="1140.11" y="964.8" font-size="32.4" fill="#23882a">E-low</text>
<text x="1285.41" y="964.8" font-size="32.4" fill="#f26b2a">E-high</text>
<text x="1138.7" y="1176.3" font-size="32" fill="#000" transform="rotate(-90 1138.7 1176.3)">Cell count</text>
<text x="1146.74" y="1273.3" font-size="32" fill="#000">E-selectin binding</text>
<text x="497.72" y="1362.6" font-size="64" font-weight="bold" fill="#000">i</text>
<line x1="709.3" y1="1402.3" x2="709.3" y2="1589.2" stroke="#000" stroke-width="2.8"/>
<line x1="697.7" y1="1577.9" x2="873.4" y2="1577.9" stroke="#000" stroke-width="2.8"/>
<line x1="697.7" y1="1402.3" x2="709.3" y2="1402.3" stroke="#000" stroke-width="2.8"/>
<path d="M655.55,1413.90 L652.74,1413.90 L652.74,1395.98 Q651.73,1396.95 650.07,1397.92 Q648.41,1398.88 647.10,1399.37 L647.10,1396.65 Q649.46,1395.54 651.23,1393.96 Q652.99,1392.38 653.73,1390.90 L655.55,1390.90 Z" fill="#000"/>
<text x="661.43" y="1413.9" font-size="32" fill="#000">.5</text>
<line x1="697.7" y1="1490" x2="709.3" y2="1490" stroke="#000" stroke-width="2.8"/>
<path d="M655.55,1501.60 L652.74,1501.60 L652.74,1483.68 Q651.73,1484.65 650.07,1485.62 Q648.41,1486.58 647.10,1487.07 L647.10,1484.35 Q649.46,1483.24 651.23,1481.66 Q652.99,1480.08 653.73,1478.60 L655.55,1478.60 Z" fill="#000"/>
<text x="661.43" y="1501.6" font-size="32" fill="#000">.0</text>
<line x1="697.7" y1="1577.9" x2="709.3" y2="1577.9" stroke="#000" stroke-width="2.8"/>
<text x="643.6" y="1589.5" font-size="32" fill="#000">0.5</text>
<line x1="709.3" y1="1577.9" x2="709.3" y2="1589.2" stroke="#000" stroke-width="2.8"/>
<line x1="764.4" y1="1577.9" x2="764.4" y2="1589.2" stroke="#000" stroke-width="2.8"/>
<line x1="818" y1="1577.9" x2="818" y2="1589.2" stroke="#000" stroke-width="2.8"/>
<line x1="872.5" y1="1577.9" x2="872.5" y2="1589.2" stroke="#000" stroke-width="2.8"/>
<line x1="737.9" y1="1524.6" x2="737.9" y2="1520" stroke="#000" stroke-width="2.8"/>
<line x1="729.4" y1="1520" x2="746.4" y2="1520" stroke="#000" stroke-width="2.8"/>
<rect x="724.85" y="1525.85" width="26.1" height="52.05" fill="#FFCC99" stroke="#000" stroke-width="2.5"/>
<rect x="779.85" y="1491.25" width="24.7" height="86.65" fill="#FFCC99" stroke="#000" stroke-width="2.5"/>
<line x1="844.35" y1="1467.1" x2="844.35" y2="1459.5" stroke="#000" stroke-width="2.8"/>
<line x1="834.85" y1="1459.5" x2="853.85" y2="1459.5" stroke="#000" stroke-width="2.8"/>
<rect x="830.75" y="1468.35" width="27.2" height="109.55" fill="#FFCC99" stroke="#000" stroke-width="2.5"/>
<circle cx="737.7" cy="1506.2" r="3" fill="#000"/>
<circle cx="736.2" cy="1528.4" r="3" fill="#000"/>
<circle cx="738.3" cy="1532.9" r="3" fill="#000"/>
<circle cx="735" cy="1527" r="3" fill="#000"/>
<circle cx="790" cy="1489" r="3" fill="#000"/>
<circle cx="793" cy="1491.5" r="3" fill="#000"/>
<circle cx="795.5" cy="1490" r="3" fill="#000"/>
<circle cx="791.5" cy="1492" r="3" fill="#000"/>
<circle cx="844" cy="1441.7" r="3" fill="#000"/>
<circle cx="839.5" cy="1473.6" r="3" fill="#000"/>
<circle cx="847" cy="1474" r="3" fill="#000"/>
<circle cx="843" cy="1472" r="3" fill="#000"/>
<polyline points="737.8,1503.3 737.8,1418.5 789.5,1418.5 789.5,1485.5" stroke="#000" stroke-width="2.3" fill="none"/>
<polyline points="793.9,1485.5 793.9,1418.5 846,1418.5 846,1450.6" stroke="#000" stroke-width="2.3" fill="none"/>
<text x="772.8" y="1412.47" font-size="28.7" fill="#000" transform="rotate(-90 772.8 1412.47)">p=0.002</text>
<text x="824.8" y="1412.47" font-size="28.7" fill="#000" transform="rotate(-90 824.8 1412.47)">p=0.022</text>
<text x="584" y="1613.96" font-size="32" fill="#000" transform="rotate(-90 584 1613.96)">E-selectin binding</text>
<text x="621.5" y="1604.42" font-size="32" fill="#000" transform="rotate(-90 621.5 1604.42)">(GFP/RFP ratio)</text>
<text x="750.5" y="1665.36" font-size="32" fill="#000" transform="rotate(-90 750.5 1665.36)">E-low</text>
<text x="804.4" y="1681.86" font-size="32" fill="#000" transform="rotate(-90 804.4 1681.86)">Parent</text>
<text x="857.3" y="1680.56" font-size="32" fill="#000" transform="rotate(-90 857.3 1680.56)">E-high</text>
<text x="894.26" y="1358.8" font-size="64" font-weight="bold" fill="#000">j</text>
<line x1="1025.3" y1="1375.4" x2="1025.3" y2="1640.9" stroke="#000" stroke-width="2.8"/>
<line x1="1014.7" y1="1632.2" x2="1409.2" y2="1632.2" stroke="#000" stroke-width="2.8"/>
<line x1="1014.7" y1="1375.4" x2="1025.3" y2="1375.4" stroke="#000" stroke-width="2.8"/>
<path d="M985.06,1387.00 L982.25,1387.00 L982.25,1369.08 Q981.24,1370.05 979.58,1371.02 Q977.92,1371.98 976.61,1372.47 L976.61,1369.75 Q978.97,1368.64 980.74,1367.06 Q982.50,1365.48 983.24,1364.00 L985.06,1364.00 Z" fill="#000"/>
<text x="990.94" y="1387" font-size="32" fill="#000">2</text>
<line x1="1014.7" y1="1439.6" x2="1025.3" y2="1439.6" stroke="#000" stroke-width="2.8"/>
<text x="990.78" y="1451.2" font-size="32" fill="#000">9</text>
<line x1="1014.7" y1="1503.8" x2="1025.3" y2="1503.8" stroke="#000" stroke-width="2.8"/>
<text x="990.78" y="1515.4" font-size="32" fill="#000">6</text>
<line x1="1014.7" y1="1568" x2="1025.3" y2="1568" stroke="#000" stroke-width="2.8"/>
<text x="990.78" y="1579.6" font-size="32" fill="#000">3</text>
<line x1="1014.7" y1="1632.2" x2="1025.3" y2="1632.2" stroke="#000" stroke-width="2.8"/>
<text x="990.62" y="1643.8" font-size="32" fill="#000">0</text>
<line x1="1025.3" y1="1632.2" x2="1025.3" y2="1640.9" stroke="#000" stroke-width="2.8"/>
<line x1="1152.4" y1="1632.2" x2="1152.4" y2="1640.9" stroke="#000" stroke-width="2.8"/>
<line x1="1280.2" y1="1632.2" x2="1280.2" y2="1640.9" stroke="#000" stroke-width="2.8"/>
<line x1="1409.2" y1="1632.2" x2="1409.2" y2="1640.9" stroke="#000" stroke-width="2.8"/>
<rect x="1037.55" y="1610.05" width="27.35" height="22.15" fill="#FFCC99" stroke="#000" stroke-width="2.5"/>
<rect x="1064.9" y="1618.95" width="23.5" height="13.25" fill="#C8E4E8" stroke="#000" stroke-width="2.5"/>
<rect x="1088.4" y="1605.65" width="26.8" height="26.55" fill="#D264FA" stroke="#000" stroke-width="2.5"/>
<rect x="1115.2" y="1620.65" width="25.25" height="11.55" fill="#14C814" stroke="#000" stroke-width="2.5"/>
<rect x="1165.95" y="1611.15" width="27.55" height="21.05" fill="#FFCC99" stroke="#000" stroke-width="2.5"/>
<rect x="1193.5" y="1624.55" width="24.7" height="7.65" fill="#C8E4E8" stroke="#000" stroke-width="2.5"/>
<rect x="1218.2" y="1628.55" width="23.5" height="3.65" fill="#D264FA" stroke="#000" stroke-width="2.5"/>
<rect x="1241.7" y="1628.55" width="21.65" height="3.65" fill="#14C814" stroke="#000" stroke-width="2.5"/>
<rect x="1294.25" y="1610.35" width="26.25" height="21.85" fill="#FFCC99" stroke="#000" stroke-width="2.5"/>
<rect x="1320.5" y="1610.35" width="24.4" height="21.85" fill="#C8E4E8" stroke="#000" stroke-width="2.5"/>
<rect x="1344.9" y="1424.05" width="26.1" height="208.15" fill="#D264FA" stroke="#000" stroke-width="2.5"/>
<rect x="1371" y="1599.75" width="26.15" height="32.45" fill="#14C814" stroke="#000" stroke-width="2.5"/>
<circle cx="1050.3" cy="1596.5" r="3.2" fill="#000"/>
<circle cx="1049.9" cy="1607.9" r="3.2" fill="#000"/>
<circle cx="1048.2" cy="1612.6" r="3.2" fill="#000"/>
<circle cx="1052.8" cy="1614.3" r="3.2" fill="#000"/>
<circle cx="1077" cy="1612.6" r="3.2" fill="#000"/>
<circle cx="1073.2" cy="1617.2" r="3.2" fill="#000"/>
<circle cx="1078.2" cy="1620.6" r="3.2" fill="#000"/>
<circle cx="1101.9" cy="1578.5" r="3.2" fill="#000"/>
<circle cx="1101.9" cy="1604.1" r="3.2" fill="#000"/>
<circle cx="1101.9" cy="1611.3" r="3.2" fill="#000"/>
<circle cx="1101.9" cy="1619.8" r="3.2" fill="#000"/>
<circle cx="1129" cy="1613.8" r="3.2" fill="#000"/>
<circle cx="1124.8" cy="1617.2" r="3.2" fill="#000"/>
<circle cx="1124.8" cy="1621.5" r="3.2" fill="#000"/>
<circle cx="1175.7" cy="1605.8" r="3.2" fill="#000"/>
<circle cx="1182.1" cy="1605.8" r="3.2" fill="#000"/>
<circle cx="1177.5" cy="1612.3" r="3.2" fill="#000"/>
<circle cx="1182.1" cy="1612.3" r="3.2" fill="#000"/>
<circle cx="1197.7" cy="1620.5" r="3.2" fill="#000"/>
<circle cx="1205" cy="1620.5" r="3.2" fill="#000"/>
<circle cx="1212.3" cy="1620.5" r="3.2" fill="#000"/>
<circle cx="1223.3" cy="1628.8" r="3.2" fill="#000"/>
<circle cx="1230.7" cy="1628.8" r="3.2" fill="#000"/>
<circle cx="1236.2" cy="1628.8" r="3.2" fill="#000"/>
<circle cx="1249" cy="1628.8" r="3.2" fill="#000"/>
<circle cx="1254.5" cy="1628.8" r="3.2" fill="#000"/>
<circle cx="1260" cy="1628.8" r="3.2" fill="#000"/>
<circle cx="1306.8" cy="1595.8" r="3.2" fill="#000"/>
<circle cx="1305" cy="1609.5" r="3.2" fill="#000"/>
<circle cx="1307.7" cy="1613.2" r="3.2" fill="#000"/>
<circle cx="1328.8" cy="1595.8" r="3.2" fill="#000"/>
<circle cx="1336.1" cy="1595.8" r="3.2" fill="#000"/>
<circle cx="1332.4" cy="1615" r="3.2" fill="#000"/>
<circle cx="1332.4" cy="1620.5" r="3.2" fill="#000"/>
<circle cx="1358.8" cy="1384.8" r="3.2" fill="#000"/>
<circle cx="1358.8" cy="1424.7" r="3.2" fill="#000"/>
<circle cx="1358.8" cy="1432.3" r="3.2" fill="#000"/>
<circle cx="1358.8" cy="1439.9" r="3.2" fill="#000"/>
<circle cx="1385.6" cy="1589.3" r="3.2" fill="#000"/>
<circle cx="1382.8" cy="1593" r="3.2" fill="#000"/>
<circle cx="1383.8" cy="1612.3" r="3.2" fill="#000"/>
<rect x="1056.55" y="1366.95" width="19.1" height="17.3" fill="#FFCC99" stroke="#000" stroke-width="2.5"/>
<text x="1082.98" y="1385.4" font-size="31.5" fill="#000">MDA-23</text>
<path d="M1210.24,1385.40 L1207.47,1385.40 L1207.47,1367.76 Q1206.47,1368.71 1204.84,1369.67 Q1203.21,1370.62 1201.92,1371.10 L1201.92,1368.42 Q1204.24,1367.33 1205.98,1365.77 Q1207.72,1364.22 1208.44,1362.76 L1210.24,1362.76 Z" fill="#000"/>
<rect x="1056.55" y="1407.55" width="19.1" height="17.3" fill="#99CCFF" stroke="#000" stroke-width="2.5"/>
<text x="1084.08" y="1426" font-size="31.5" fill="#000">SCP6</text>
<rect x="1056.55" y="1448.25" width="19.1" height="17.3" fill="#CC99FF" stroke="#000" stroke-width="2.5"/>
<text x="1084.08" y="1466.7" font-size="31.5" fill="#000">SCP25</text>
<rect x="1056.55" y="1488.25" width="19.1" height="17.3" fill="#00CC00" stroke="#000" stroke-width="2.5"/>
<text x="1082.98" y="1506.7" font-size="31.5" fill="#000">LM2</text>
<text x="966.5" y="1649.16" font-size="32" fill="#000" transform="rotate(-90 966.5 1649.16)">Relative mRNA level</text>
<text x="1051.69" y="1675" font-size="31" font-style="italic" fill="#000">Fut3</text>
<text x="1180.08" y="1675" font-size="31" font-style="italic" fill="#000">Fut4</text>
<text x="1308.54" y="1675" font-size="31" font-style="italic" fill="#000">Fut6</text>
</svg></body></html>
